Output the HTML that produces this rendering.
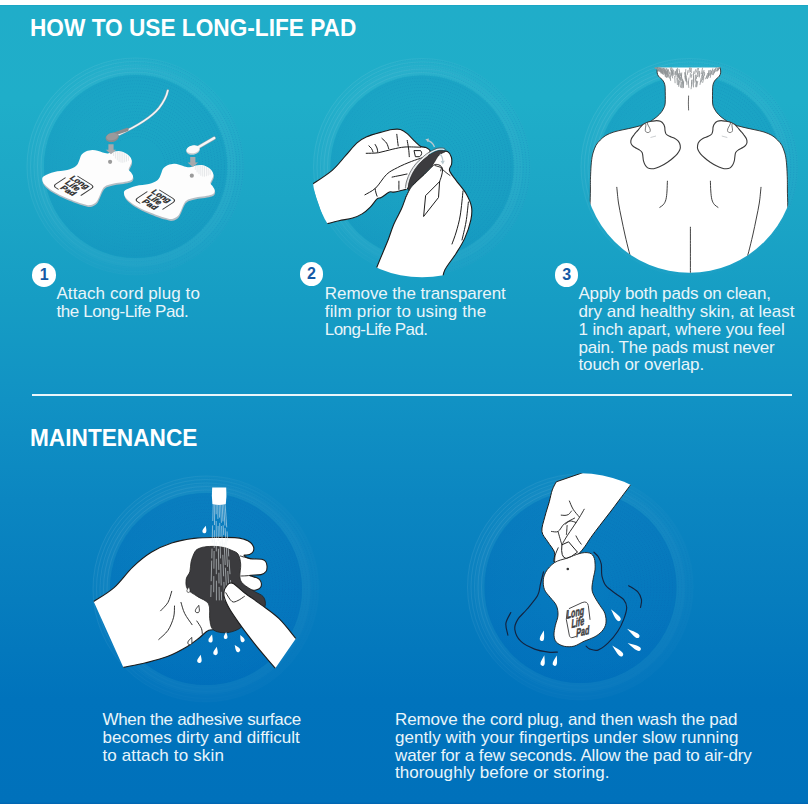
<!DOCTYPE html>
<html lang="en">
<head>
<meta charset="utf-8">
<title>How to use Long-Life Pad</title>
<style>
html,body{margin:0;padding:0;background:#fff;}
body{width:808px;height:808px;position:relative;overflow:hidden;font-family:"Liberation Sans",sans-serif;}
#bg{position:absolute;left:0;top:5px;width:808px;height:799px;
background:linear-gradient(to bottom,#18a3c2 0px,#20adc9 1.5px,#1faec9 95px,#1ca6c6 195px,#169dc4 295px,#1192c4 395px,#0b86c1 495px,#067dbe 595px,#0073bc 695px,#0071bb 797px,#0064b0 799px);}
#art{position:absolute;left:0;top:0;width:808px;height:808px;}
h1,h2{position:absolute;margin:0;font-weight:bold;font-size:24.6px;line-height:26px;color:#fff;white-space:nowrap;left:29.6px;transform:scaleX(0.921);transform-origin:0 0;}
h1{top:14.9px;}
h2{top:425px;left:30.2px;}
.rule{position:absolute;left:32px;top:394px;width:760px;height:2px;background:#eaf6fb;}
.badge{position:absolute;width:23.6px;height:23.6px;border-radius:50%;background:#fff;color:#1459a5;font-weight:bold;font-size:16px;line-height:23.8px;text-align:center;}
.t{position:absolute;margin:0;color:#e9f5fa;font-size:17px;line-height:17.7px;white-space:nowrap;}
.t span{display:block;}
</style>
</head>
<body>
<div id="bg"></div>
<svg id="art" viewBox="0 0 808 808" width="808" height="808">
<defs>
<radialGradient id="discg" cx="0.5" cy="0.5" r="0.5">
<stop offset="0" stop-color="#25b8dc" stop-opacity="0.06"/>
<stop offset="0.6" stop-color="#25b8dc" stop-opacity="0.02"/>
<stop offset="1" stop-color="#0a6fc0" stop-opacity="0.04"/>
</radialGradient>
<linearGradient id="ringd" x1="0" y1="0.6" x2="1" y2="0.4">
<stop offset="0" stop-color="#0b6fb5" stop-opacity="0"/>
<stop offset="0.45" stop-color="#0b6fb5" stop-opacity="0.10"/>
<stop offset="1" stop-color="#0b6fb5" stop-opacity="0.36"/>
</linearGradient>
<linearGradient id="ringi" x1="0" y1="0.7" x2="1" y2="0.3">
<stop offset="0" stop-color="#0d7fb4" stop-opacity="0.06"/>
<stop offset="0.4" stop-color="#0d7fb4" stop-opacity="0.20"/>
<stop offset="1" stop-color="#0d7fb4" stop-opacity="0.40"/>
</linearGradient>
<linearGradient id="ringj" x1="0" y1="0.7" x2="1" y2="0.3">
<stop offset="0" stop-color="#0a5fae" stop-opacity="0.03"/>
<stop offset="0.4" stop-color="#0a5fae" stop-opacity="0.12"/>
<stop offset="1" stop-color="#0a5fae" stop-opacity="0.30"/>
</linearGradient>
<linearGradient id="ringl" x1="0" y1="0.2" x2="1" y2="0.8">
<stop offset="0" stop-color="#ffffff" stop-opacity="0.13"/>
<stop offset="0.5" stop-color="#ffffff" stop-opacity="0.03"/>
<stop offset="1" stop-color="#ffffff" stop-opacity="0"/>
</linearGradient>
</defs>
<g id="disc1"><circle cx="135.5" cy="166.5" r="100.0" fill="none" stroke="#ffffff" stroke-opacity="0.02" stroke-width="17"/><circle cx="135.5" cy="166.5" r="96.0" fill="none" stroke="#ffffff" stroke-opacity="0.025" stroke-width="9"/><circle cx="135.5" cy="166.5" r="91.5" fill="#0b81b0" fill-opacity="0.17"/><circle cx="135.5" cy="166.5" r="91.5" fill="url(#discg)"/><circle cx="135.5" cy="166.5" r="30.0" fill="none" stroke="url(#ringi)" stroke-width="0.9" stroke-dasharray="1 1.6"/><circle cx="135.5" cy="166.5" r="33.1" fill="none" stroke="url(#ringi)" stroke-width="0.9" stroke-dasharray="1 1.6"/><circle cx="135.5" cy="166.5" r="36.2" fill="none" stroke="url(#ringi)" stroke-width="0.9" stroke-dasharray="1 1.6"/><circle cx="135.5" cy="166.5" r="39.3" fill="none" stroke="url(#ringi)" stroke-width="0.9" stroke-dasharray="1 1.6"/><circle cx="135.5" cy="166.5" r="42.4" fill="none" stroke="url(#ringi)" stroke-width="0.9" stroke-dasharray="1 1.6"/><circle cx="135.5" cy="166.5" r="45.5" fill="none" stroke="url(#ringi)" stroke-width="0.9" stroke-dasharray="1 1.6"/><circle cx="135.5" cy="166.5" r="48.6" fill="none" stroke="url(#ringi)" stroke-width="0.9" stroke-dasharray="1 1.6"/><circle cx="135.5" cy="166.5" r="51.7" fill="none" stroke="url(#ringi)" stroke-width="0.9" stroke-dasharray="1 1.6"/><circle cx="135.5" cy="166.5" r="54.8" fill="none" stroke="url(#ringi)" stroke-width="0.9" stroke-dasharray="1 1.6"/><circle cx="135.5" cy="166.5" r="57.9" fill="none" stroke="url(#ringi)" stroke-width="0.9" stroke-dasharray="1 1.6"/><circle cx="135.5" cy="166.5" r="61.0" fill="none" stroke="url(#ringi)" stroke-width="0.9" stroke-dasharray="1 1.6"/><circle cx="135.5" cy="166.5" r="64.1" fill="none" stroke="url(#ringi)" stroke-width="0.9" stroke-dasharray="1 1.6"/><circle cx="135.5" cy="166.5" r="67.2" fill="none" stroke="url(#ringi)" stroke-width="0.9" stroke-dasharray="1 1.6"/><circle cx="135.5" cy="166.5" r="70.3" fill="none" stroke="url(#ringi)" stroke-width="0.9" stroke-dasharray="1 1.6"/><circle cx="135.5" cy="166.5" r="73.4" fill="none" stroke="url(#ringi)" stroke-width="0.9" stroke-dasharray="1 1.6"/><circle cx="135.5" cy="166.5" r="76.5" fill="none" stroke="url(#ringi)" stroke-width="0.9" stroke-dasharray="1 1.6"/><circle cx="135.5" cy="166.5" r="79.6" fill="none" stroke="url(#ringi)" stroke-width="0.9" stroke-dasharray="1 1.6"/><circle cx="135.5" cy="166.5" r="82.7" fill="none" stroke="url(#ringi)" stroke-width="0.9" stroke-dasharray="1 1.6"/><circle cx="135.5" cy="166.5" r="85.8" fill="none" stroke="url(#ringi)" stroke-width="0.9" stroke-dasharray="1 1.6"/><circle cx="135.5" cy="166.5" r="88.9" fill="none" stroke="url(#ringi)" stroke-width="0.9" stroke-dasharray="1 1.6"/><circle cx="135.5" cy="166.5" r="92.0" fill="none" stroke="url(#ringd)" stroke-width="0.8" stroke-dasharray="1 1.5"/><circle cx="135.5" cy="166.5" r="95.1" fill="none" stroke="url(#ringd)" stroke-width="0.8" stroke-dasharray="1 1.5"/><circle cx="135.5" cy="166.5" r="98.2" fill="none" stroke="url(#ringd)" stroke-width="0.8" stroke-dasharray="1 1.5"/><circle cx="135.5" cy="166.5" r="101.3" fill="none" stroke="url(#ringd)" stroke-width="0.8" stroke-dasharray="1 1.5"/><circle cx="135.5" cy="166.5" r="104.4" fill="none" stroke="url(#ringd)" stroke-width="0.8" stroke-dasharray="1 1.5"/><circle cx="135.5" cy="166.5" r="107.5" fill="none" stroke="url(#ringd)" stroke-width="0.8" stroke-dasharray="1 1.5"/><circle cx="135.5" cy="166.5" r="94.5" fill="none" stroke="url(#ringl)" stroke-width="0.7"/><circle cx="135.5" cy="166.5" r="98.0" fill="none" stroke="url(#ringl)" stroke-width="0.7"/><circle cx="135.5" cy="166.5" r="101.5" fill="none" stroke="url(#ringl)" stroke-width="0.7"/><circle cx="135.5" cy="166.5" r="105.0" fill="none" stroke="url(#ringl)" stroke-width="0.7"/><circle cx="135.5" cy="166.5" r="108.5" fill="none" stroke="url(#ringl)" stroke-width="0.7"/></g>
<g id="disc2"><circle cx="422" cy="167" r="100.0" fill="none" stroke="#ffffff" stroke-opacity="0.02" stroke-width="17"/><circle cx="422" cy="167" r="96.0" fill="none" stroke="#ffffff" stroke-opacity="0.025" stroke-width="9"/><circle cx="422" cy="167" r="91.5" fill="#0b81b0" fill-opacity="0.17"/><circle cx="422" cy="167" r="91.5" fill="url(#discg)"/><circle cx="422" cy="167" r="30.0" fill="none" stroke="url(#ringi)" stroke-width="0.9" stroke-dasharray="1 1.6"/><circle cx="422" cy="167" r="33.1" fill="none" stroke="url(#ringi)" stroke-width="0.9" stroke-dasharray="1 1.6"/><circle cx="422" cy="167" r="36.2" fill="none" stroke="url(#ringi)" stroke-width="0.9" stroke-dasharray="1 1.6"/><circle cx="422" cy="167" r="39.3" fill="none" stroke="url(#ringi)" stroke-width="0.9" stroke-dasharray="1 1.6"/><circle cx="422" cy="167" r="42.4" fill="none" stroke="url(#ringi)" stroke-width="0.9" stroke-dasharray="1 1.6"/><circle cx="422" cy="167" r="45.5" fill="none" stroke="url(#ringi)" stroke-width="0.9" stroke-dasharray="1 1.6"/><circle cx="422" cy="167" r="48.6" fill="none" stroke="url(#ringi)" stroke-width="0.9" stroke-dasharray="1 1.6"/><circle cx="422" cy="167" r="51.7" fill="none" stroke="url(#ringi)" stroke-width="0.9" stroke-dasharray="1 1.6"/><circle cx="422" cy="167" r="54.8" fill="none" stroke="url(#ringi)" stroke-width="0.9" stroke-dasharray="1 1.6"/><circle cx="422" cy="167" r="57.9" fill="none" stroke="url(#ringi)" stroke-width="0.9" stroke-dasharray="1 1.6"/><circle cx="422" cy="167" r="61.0" fill="none" stroke="url(#ringi)" stroke-width="0.9" stroke-dasharray="1 1.6"/><circle cx="422" cy="167" r="64.1" fill="none" stroke="url(#ringi)" stroke-width="0.9" stroke-dasharray="1 1.6"/><circle cx="422" cy="167" r="67.2" fill="none" stroke="url(#ringi)" stroke-width="0.9" stroke-dasharray="1 1.6"/><circle cx="422" cy="167" r="70.3" fill="none" stroke="url(#ringi)" stroke-width="0.9" stroke-dasharray="1 1.6"/><circle cx="422" cy="167" r="73.4" fill="none" stroke="url(#ringi)" stroke-width="0.9" stroke-dasharray="1 1.6"/><circle cx="422" cy="167" r="76.5" fill="none" stroke="url(#ringi)" stroke-width="0.9" stroke-dasharray="1 1.6"/><circle cx="422" cy="167" r="79.6" fill="none" stroke="url(#ringi)" stroke-width="0.9" stroke-dasharray="1 1.6"/><circle cx="422" cy="167" r="82.7" fill="none" stroke="url(#ringi)" stroke-width="0.9" stroke-dasharray="1 1.6"/><circle cx="422" cy="167" r="85.8" fill="none" stroke="url(#ringi)" stroke-width="0.9" stroke-dasharray="1 1.6"/><circle cx="422" cy="167" r="88.9" fill="none" stroke="url(#ringi)" stroke-width="0.9" stroke-dasharray="1 1.6"/><circle cx="422" cy="167" r="92.0" fill="none" stroke="url(#ringd)" stroke-width="0.8" stroke-dasharray="1 1.5"/><circle cx="422" cy="167" r="95.1" fill="none" stroke="url(#ringd)" stroke-width="0.8" stroke-dasharray="1 1.5"/><circle cx="422" cy="167" r="98.2" fill="none" stroke="url(#ringd)" stroke-width="0.8" stroke-dasharray="1 1.5"/><circle cx="422" cy="167" r="101.3" fill="none" stroke="url(#ringd)" stroke-width="0.8" stroke-dasharray="1 1.5"/><circle cx="422" cy="167" r="104.4" fill="none" stroke="url(#ringd)" stroke-width="0.8" stroke-dasharray="1 1.5"/><circle cx="422" cy="167" r="107.5" fill="none" stroke="url(#ringd)" stroke-width="0.8" stroke-dasharray="1 1.5"/><circle cx="422" cy="167" r="94.5" fill="none" stroke="url(#ringl)" stroke-width="0.7"/><circle cx="422" cy="167" r="98.0" fill="none" stroke="url(#ringl)" stroke-width="0.7"/><circle cx="422" cy="167" r="101.5" fill="none" stroke="url(#ringl)" stroke-width="0.7"/><circle cx="422" cy="167" r="105.0" fill="none" stroke="url(#ringl)" stroke-width="0.7"/><circle cx="422" cy="167" r="108.5" fill="none" stroke="url(#ringl)" stroke-width="0.7"/></g>
<g id="disc3"><circle cx="689.5" cy="167" r="100.0" fill="none" stroke="#ffffff" stroke-opacity="0.02" stroke-width="17"/><circle cx="689.5" cy="167" r="96.0" fill="none" stroke="#ffffff" stroke-opacity="0.025" stroke-width="9"/><circle cx="689.5" cy="167" r="91.5" fill="#0b81b0" fill-opacity="0.17"/><circle cx="689.5" cy="167" r="91.5" fill="url(#discg)"/><circle cx="689.5" cy="167" r="30.0" fill="none" stroke="url(#ringi)" stroke-width="0.9" stroke-dasharray="1 1.6"/><circle cx="689.5" cy="167" r="33.1" fill="none" stroke="url(#ringi)" stroke-width="0.9" stroke-dasharray="1 1.6"/><circle cx="689.5" cy="167" r="36.2" fill="none" stroke="url(#ringi)" stroke-width="0.9" stroke-dasharray="1 1.6"/><circle cx="689.5" cy="167" r="39.3" fill="none" stroke="url(#ringi)" stroke-width="0.9" stroke-dasharray="1 1.6"/><circle cx="689.5" cy="167" r="42.4" fill="none" stroke="url(#ringi)" stroke-width="0.9" stroke-dasharray="1 1.6"/><circle cx="689.5" cy="167" r="45.5" fill="none" stroke="url(#ringi)" stroke-width="0.9" stroke-dasharray="1 1.6"/><circle cx="689.5" cy="167" r="48.6" fill="none" stroke="url(#ringi)" stroke-width="0.9" stroke-dasharray="1 1.6"/><circle cx="689.5" cy="167" r="51.7" fill="none" stroke="url(#ringi)" stroke-width="0.9" stroke-dasharray="1 1.6"/><circle cx="689.5" cy="167" r="54.8" fill="none" stroke="url(#ringi)" stroke-width="0.9" stroke-dasharray="1 1.6"/><circle cx="689.5" cy="167" r="57.9" fill="none" stroke="url(#ringi)" stroke-width="0.9" stroke-dasharray="1 1.6"/><circle cx="689.5" cy="167" r="61.0" fill="none" stroke="url(#ringi)" stroke-width="0.9" stroke-dasharray="1 1.6"/><circle cx="689.5" cy="167" r="64.1" fill="none" stroke="url(#ringi)" stroke-width="0.9" stroke-dasharray="1 1.6"/><circle cx="689.5" cy="167" r="67.2" fill="none" stroke="url(#ringi)" stroke-width="0.9" stroke-dasharray="1 1.6"/><circle cx="689.5" cy="167" r="70.3" fill="none" stroke="url(#ringi)" stroke-width="0.9" stroke-dasharray="1 1.6"/><circle cx="689.5" cy="167" r="73.4" fill="none" stroke="url(#ringi)" stroke-width="0.9" stroke-dasharray="1 1.6"/><circle cx="689.5" cy="167" r="76.5" fill="none" stroke="url(#ringi)" stroke-width="0.9" stroke-dasharray="1 1.6"/><circle cx="689.5" cy="167" r="79.6" fill="none" stroke="url(#ringi)" stroke-width="0.9" stroke-dasharray="1 1.6"/><circle cx="689.5" cy="167" r="82.7" fill="none" stroke="url(#ringi)" stroke-width="0.9" stroke-dasharray="1 1.6"/><circle cx="689.5" cy="167" r="85.8" fill="none" stroke="url(#ringi)" stroke-width="0.9" stroke-dasharray="1 1.6"/><circle cx="689.5" cy="167" r="88.9" fill="none" stroke="url(#ringi)" stroke-width="0.9" stroke-dasharray="1 1.6"/><circle cx="689.5" cy="167" r="92.0" fill="none" stroke="url(#ringd)" stroke-width="0.8" stroke-dasharray="1 1.5"/><circle cx="689.5" cy="167" r="95.1" fill="none" stroke="url(#ringd)" stroke-width="0.8" stroke-dasharray="1 1.5"/><circle cx="689.5" cy="167" r="98.2" fill="none" stroke="url(#ringd)" stroke-width="0.8" stroke-dasharray="1 1.5"/><circle cx="689.5" cy="167" r="101.3" fill="none" stroke="url(#ringd)" stroke-width="0.8" stroke-dasharray="1 1.5"/><circle cx="689.5" cy="167" r="104.4" fill="none" stroke="url(#ringd)" stroke-width="0.8" stroke-dasharray="1 1.5"/><circle cx="689.5" cy="167" r="107.5" fill="none" stroke="url(#ringd)" stroke-width="0.8" stroke-dasharray="1 1.5"/><circle cx="689.5" cy="167" r="94.5" fill="none" stroke="url(#ringl)" stroke-width="0.7"/><circle cx="689.5" cy="167" r="98.0" fill="none" stroke="url(#ringl)" stroke-width="0.7"/><circle cx="689.5" cy="167" r="101.5" fill="none" stroke="url(#ringl)" stroke-width="0.7"/><circle cx="689.5" cy="167" r="105.0" fill="none" stroke="url(#ringl)" stroke-width="0.7"/><circle cx="689.5" cy="167" r="108.5" fill="none" stroke="url(#ringl)" stroke-width="0.7"/></g>
<g id="disc4"><circle cx="206" cy="589" r="104.5" fill="none" stroke="#ffffff" stroke-opacity="0.02" stroke-width="17"/><circle cx="206" cy="589" r="100.5" fill="none" stroke="#ffffff" stroke-opacity="0.025" stroke-width="9"/><circle cx="206" cy="589" r="96" fill="#005bb6" fill-opacity="0.17"/><circle cx="206" cy="589" r="96" fill="url(#discg)"/><circle cx="206" cy="589" r="30.0" fill="none" stroke="url(#ringj)" stroke-width="0.9" stroke-dasharray="1 1.6"/><circle cx="206" cy="589" r="33.1" fill="none" stroke="url(#ringj)" stroke-width="0.9" stroke-dasharray="1 1.6"/><circle cx="206" cy="589" r="36.2" fill="none" stroke="url(#ringj)" stroke-width="0.9" stroke-dasharray="1 1.6"/><circle cx="206" cy="589" r="39.3" fill="none" stroke="url(#ringj)" stroke-width="0.9" stroke-dasharray="1 1.6"/><circle cx="206" cy="589" r="42.4" fill="none" stroke="url(#ringj)" stroke-width="0.9" stroke-dasharray="1 1.6"/><circle cx="206" cy="589" r="45.5" fill="none" stroke="url(#ringj)" stroke-width="0.9" stroke-dasharray="1 1.6"/><circle cx="206" cy="589" r="48.6" fill="none" stroke="url(#ringj)" stroke-width="0.9" stroke-dasharray="1 1.6"/><circle cx="206" cy="589" r="51.7" fill="none" stroke="url(#ringj)" stroke-width="0.9" stroke-dasharray="1 1.6"/><circle cx="206" cy="589" r="54.8" fill="none" stroke="url(#ringj)" stroke-width="0.9" stroke-dasharray="1 1.6"/><circle cx="206" cy="589" r="57.9" fill="none" stroke="url(#ringj)" stroke-width="0.9" stroke-dasharray="1 1.6"/><circle cx="206" cy="589" r="61.0" fill="none" stroke="url(#ringj)" stroke-width="0.9" stroke-dasharray="1 1.6"/><circle cx="206" cy="589" r="64.1" fill="none" stroke="url(#ringj)" stroke-width="0.9" stroke-dasharray="1 1.6"/><circle cx="206" cy="589" r="67.2" fill="none" stroke="url(#ringj)" stroke-width="0.9" stroke-dasharray="1 1.6"/><circle cx="206" cy="589" r="70.3" fill="none" stroke="url(#ringj)" stroke-width="0.9" stroke-dasharray="1 1.6"/><circle cx="206" cy="589" r="73.4" fill="none" stroke="url(#ringj)" stroke-width="0.9" stroke-dasharray="1 1.6"/><circle cx="206" cy="589" r="76.5" fill="none" stroke="url(#ringj)" stroke-width="0.9" stroke-dasharray="1 1.6"/><circle cx="206" cy="589" r="79.6" fill="none" stroke="url(#ringj)" stroke-width="0.9" stroke-dasharray="1 1.6"/><circle cx="206" cy="589" r="82.7" fill="none" stroke="url(#ringj)" stroke-width="0.9" stroke-dasharray="1 1.6"/><circle cx="206" cy="589" r="85.8" fill="none" stroke="url(#ringj)" stroke-width="0.9" stroke-dasharray="1 1.6"/><circle cx="206" cy="589" r="88.9" fill="none" stroke="url(#ringj)" stroke-width="0.9" stroke-dasharray="1 1.6"/><circle cx="206" cy="589" r="92.0" fill="none" stroke="url(#ringj)" stroke-width="0.9" stroke-dasharray="1 1.6"/><circle cx="206" cy="589" r="95.1" fill="none" stroke="url(#ringd)" stroke-width="0.8" stroke-dasharray="1 1.5"/><circle cx="206" cy="589" r="98.2" fill="none" stroke="url(#ringd)" stroke-width="0.8" stroke-dasharray="1 1.5"/><circle cx="206" cy="589" r="101.3" fill="none" stroke="url(#ringd)" stroke-width="0.8" stroke-dasharray="1 1.5"/><circle cx="206" cy="589" r="104.4" fill="none" stroke="url(#ringd)" stroke-width="0.8" stroke-dasharray="1 1.5"/><circle cx="206" cy="589" r="107.5" fill="none" stroke="url(#ringd)" stroke-width="0.8" stroke-dasharray="1 1.5"/><circle cx="206" cy="589" r="110.6" fill="none" stroke="url(#ringd)" stroke-width="0.8" stroke-dasharray="1 1.5"/><circle cx="206" cy="589" r="99" fill="none" stroke="url(#ringl)" stroke-width="0.7"/><circle cx="206" cy="589" r="102.5" fill="none" stroke="url(#ringl)" stroke-width="0.7"/><circle cx="206" cy="589" r="106" fill="none" stroke="url(#ringl)" stroke-width="0.7"/><circle cx="206" cy="589" r="109.5" fill="none" stroke="url(#ringl)" stroke-width="0.7"/><circle cx="206" cy="589" r="113" fill="none" stroke="url(#ringl)" stroke-width="0.7"/></g>
<g id="disc5"><circle cx="580.5" cy="587" r="104.5" fill="none" stroke="#ffffff" stroke-opacity="0.02" stroke-width="17"/><circle cx="580.5" cy="587" r="100.5" fill="none" stroke="#ffffff" stroke-opacity="0.025" stroke-width="9"/><circle cx="580.5" cy="587" r="96" fill="#005bb6" fill-opacity="0.17"/><circle cx="580.5" cy="587" r="96" fill="url(#discg)"/><circle cx="580.5" cy="587" r="30.0" fill="none" stroke="url(#ringj)" stroke-width="0.9" stroke-dasharray="1 1.6"/><circle cx="580.5" cy="587" r="33.1" fill="none" stroke="url(#ringj)" stroke-width="0.9" stroke-dasharray="1 1.6"/><circle cx="580.5" cy="587" r="36.2" fill="none" stroke="url(#ringj)" stroke-width="0.9" stroke-dasharray="1 1.6"/><circle cx="580.5" cy="587" r="39.3" fill="none" stroke="url(#ringj)" stroke-width="0.9" stroke-dasharray="1 1.6"/><circle cx="580.5" cy="587" r="42.4" fill="none" stroke="url(#ringj)" stroke-width="0.9" stroke-dasharray="1 1.6"/><circle cx="580.5" cy="587" r="45.5" fill="none" stroke="url(#ringj)" stroke-width="0.9" stroke-dasharray="1 1.6"/><circle cx="580.5" cy="587" r="48.6" fill="none" stroke="url(#ringj)" stroke-width="0.9" stroke-dasharray="1 1.6"/><circle cx="580.5" cy="587" r="51.7" fill="none" stroke="url(#ringj)" stroke-width="0.9" stroke-dasharray="1 1.6"/><circle cx="580.5" cy="587" r="54.8" fill="none" stroke="url(#ringj)" stroke-width="0.9" stroke-dasharray="1 1.6"/><circle cx="580.5" cy="587" r="57.9" fill="none" stroke="url(#ringj)" stroke-width="0.9" stroke-dasharray="1 1.6"/><circle cx="580.5" cy="587" r="61.0" fill="none" stroke="url(#ringj)" stroke-width="0.9" stroke-dasharray="1 1.6"/><circle cx="580.5" cy="587" r="64.1" fill="none" stroke="url(#ringj)" stroke-width="0.9" stroke-dasharray="1 1.6"/><circle cx="580.5" cy="587" r="67.2" fill="none" stroke="url(#ringj)" stroke-width="0.9" stroke-dasharray="1 1.6"/><circle cx="580.5" cy="587" r="70.3" fill="none" stroke="url(#ringj)" stroke-width="0.9" stroke-dasharray="1 1.6"/><circle cx="580.5" cy="587" r="73.4" fill="none" stroke="url(#ringj)" stroke-width="0.9" stroke-dasharray="1 1.6"/><circle cx="580.5" cy="587" r="76.5" fill="none" stroke="url(#ringj)" stroke-width="0.9" stroke-dasharray="1 1.6"/><circle cx="580.5" cy="587" r="79.6" fill="none" stroke="url(#ringj)" stroke-width="0.9" stroke-dasharray="1 1.6"/><circle cx="580.5" cy="587" r="82.7" fill="none" stroke="url(#ringj)" stroke-width="0.9" stroke-dasharray="1 1.6"/><circle cx="580.5" cy="587" r="85.8" fill="none" stroke="url(#ringj)" stroke-width="0.9" stroke-dasharray="1 1.6"/><circle cx="580.5" cy="587" r="88.9" fill="none" stroke="url(#ringj)" stroke-width="0.9" stroke-dasharray="1 1.6"/><circle cx="580.5" cy="587" r="92.0" fill="none" stroke="url(#ringj)" stroke-width="0.9" stroke-dasharray="1 1.6"/><circle cx="580.5" cy="587" r="95.1" fill="none" stroke="url(#ringd)" stroke-width="0.8" stroke-dasharray="1 1.5"/><circle cx="580.5" cy="587" r="98.2" fill="none" stroke="url(#ringd)" stroke-width="0.8" stroke-dasharray="1 1.5"/><circle cx="580.5" cy="587" r="101.3" fill="none" stroke="url(#ringd)" stroke-width="0.8" stroke-dasharray="1 1.5"/><circle cx="580.5" cy="587" r="104.4" fill="none" stroke="url(#ringd)" stroke-width="0.8" stroke-dasharray="1 1.5"/><circle cx="580.5" cy="587" r="107.5" fill="none" stroke="url(#ringd)" stroke-width="0.8" stroke-dasharray="1 1.5"/><circle cx="580.5" cy="587" r="110.6" fill="none" stroke="url(#ringd)" stroke-width="0.8" stroke-dasharray="1 1.5"/><circle cx="580.5" cy="587" r="99" fill="none" stroke="url(#ringl)" stroke-width="0.7"/><circle cx="580.5" cy="587" r="102.5" fill="none" stroke="url(#ringl)" stroke-width="0.7"/><circle cx="580.5" cy="587" r="106" fill="none" stroke="url(#ringl)" stroke-width="0.7"/><circle cx="580.5" cy="587" r="109.5" fill="none" stroke="url(#ringl)" stroke-width="0.7"/><circle cx="580.5" cy="587" r="113" fill="none" stroke="url(#ringl)" stroke-width="0.7"/></g>

<g id="step1"><g><path d="M42.2 178.9C42.2 177.4 42.7 176.8 44.7 175.7C46.7 174.5 50.5 172.9 54.3 172.0C58.0 171.1 63.6 171.1 67.2 170.1C70.8 169.1 74.0 167.6 76.0 166.0C78.0 164.4 78.3 162.3 79.2 160.4C80.1 158.5 80.3 156.2 81.5 154.7C82.7 153.2 84.5 152.0 86.3 151.2C88.1 150.4 90.4 150.0 92.3 149.9C94.2 149.8 95.8 150.4 97.5 150.8C99.2 151.2 101.0 152.1 102.7 152.5C104.4 152.9 106.0 153.6 107.9 153.4C109.8 153.2 112.0 152.0 114.0 151.6C116.0 151.2 118.0 150.9 120.0 151.2C122.0 151.5 124.4 152.4 126.1 153.4C127.8 154.4 129.5 155.9 130.4 157.3C131.3 158.7 131.8 160.2 131.7 161.6C131.6 163.0 130.5 164.6 130.0 165.9C129.5 167.2 128.5 168.2 128.7 169.4C128.9 170.6 130.6 171.7 131.3 172.8C132.0 174.0 132.9 175.1 133.0 176.3C133.1 177.5 132.7 178.9 131.7 179.8C130.7 180.7 129.2 181.0 127.0 181.5C124.8 182.0 121.2 182.3 118.3 182.8C115.4 183.3 112.2 183.7 109.7 184.5C107.2 185.3 105.3 185.6 103.6 187.6C101.9 189.6 100.5 194.2 99.3 196.6C98.0 199.0 97.6 200.8 96.1 202.2C94.6 203.6 92.6 204.8 90.5 205.1C88.4 205.4 87.2 205.1 83.3 203.9C79.4 202.8 72.3 200.3 67.2 198.2C62.1 196.0 56.5 193.3 52.7 191.0C49.0 188.7 46.5 186.6 44.7 184.6C43.0 182.6 42.2 180.4 42.2 178.9Z" transform="translate(0.4 1.8)" fill="#b4bec5"/><path d="M42.2 178.9C42.2 177.4 42.7 176.8 44.7 175.7C46.7 174.5 50.5 172.9 54.3 172.0C58.0 171.1 63.6 171.1 67.2 170.1C70.8 169.1 74.0 167.6 76.0 166.0C78.0 164.4 78.3 162.3 79.2 160.4C80.1 158.5 80.3 156.2 81.5 154.7C82.7 153.2 84.5 152.0 86.3 151.2C88.1 150.4 90.4 150.0 92.3 149.9C94.2 149.8 95.8 150.4 97.5 150.8C99.2 151.2 101.0 152.1 102.7 152.5C104.4 152.9 106.0 153.6 107.9 153.4C109.8 153.2 112.0 152.0 114.0 151.6C116.0 151.2 118.0 150.9 120.0 151.2C122.0 151.5 124.4 152.4 126.1 153.4C127.8 154.4 129.5 155.9 130.4 157.3C131.3 158.7 131.8 160.2 131.7 161.6C131.6 163.0 130.5 164.6 130.0 165.9C129.5 167.2 128.5 168.2 128.7 169.4C128.9 170.6 130.6 171.7 131.3 172.8C132.0 174.0 132.9 175.1 133.0 176.3C133.1 177.5 132.7 178.9 131.7 179.8C130.7 180.7 129.2 181.0 127.0 181.5C124.8 182.0 121.2 182.3 118.3 182.8C115.4 183.3 112.2 183.7 109.7 184.5C107.2 185.3 105.3 185.6 103.6 187.6C101.9 189.6 100.5 194.2 99.3 196.6C98.0 199.0 97.6 200.8 96.1 202.2C94.6 203.6 92.6 204.8 90.5 205.1C88.4 205.4 87.2 205.1 83.3 203.9C79.4 202.8 72.3 200.3 67.2 198.2C62.1 196.0 56.5 193.3 52.7 191.0C49.0 188.7 46.5 186.6 44.7 184.6C43.0 182.6 42.2 180.4 42.2 178.9Z" fill="#fdfdfd"/><path d="M113.6 151.9v4.0" stroke="#cfd3d7" stroke-width="0.5" fill="none"/><path d="M115.4 151.5v7.0" stroke="#cfd3d7" stroke-width="0.5" fill="none"/><path d="M117.3 151.3v9.0" stroke="#cfd3d7" stroke-width="0.5" fill="none"/><path d="M119.1 151.3v10.5" stroke="#cfd3d7" stroke-width="0.5" fill="none"/><path d="M121.0 151.6v11.0" stroke="#cfd3d7" stroke-width="0.5" fill="none"/><path d="M122.8 152.3v10.5" stroke="#cfd3d7" stroke-width="0.5" fill="none"/><path d="M124.7 153.3v9.0" stroke="#cfd3d7" stroke-width="0.5" fill="none"/><path d="M126.5 154.6v7.0" stroke="#cfd3d7" stroke-width="0.5" fill="none"/><path d="M128.4 156.3v4.5" stroke="#cfd3d7" stroke-width="0.5" fill="none"/><circle cx="110.1" cy="161.8" r="2.1" fill="#9b9b9b"/><g opacity="0.99" font-family="Liberation Sans, sans-serif" font-weight="bold" font-size="8.3" fill="#262626" stroke="#262626" stroke-width="0.3"><path transform="matrix(0.95 0.59 -0.835 0.55 68.7 178.5)" d="M3 -7.4H17Q20.6 -7.4 20.6 -3.8V8.6M-2.4 1.3V12.6Q-2.4 16.2 1.2 16.2H3.2" fill="none" stroke="#3a3a3a" stroke-width="0.9" stroke-linecap="round"/><g transform="matrix(0.85 0.528 -0.835 0.55 68.9 178.4)"><text x="0" y="0">Long</text><text x="1.7" y="7.3">Life</text><text x="3.4" y="14.6">Pad</text></g></g></g><g transform="translate(81.7 13.9)"><g><path d="M42.2 178.9C42.2 177.4 42.7 176.8 44.7 175.7C46.7 174.5 50.5 172.9 54.3 172.0C58.0 171.1 63.6 171.1 67.2 170.1C70.8 169.1 74.0 167.6 76.0 166.0C78.0 164.4 78.3 162.3 79.2 160.4C80.1 158.5 80.3 156.2 81.5 154.7C82.7 153.2 84.5 152.0 86.3 151.2C88.1 150.4 90.4 150.0 92.3 149.9C94.2 149.8 95.8 150.4 97.5 150.8C99.2 151.2 101.0 152.1 102.7 152.5C104.4 152.9 106.0 153.6 107.9 153.4C109.8 153.2 112.0 152.0 114.0 151.6C116.0 151.2 118.0 150.9 120.0 151.2C122.0 151.5 124.4 152.4 126.1 153.4C127.8 154.4 129.5 155.9 130.4 157.3C131.3 158.7 131.8 160.2 131.7 161.6C131.6 163.0 130.5 164.6 130.0 165.9C129.5 167.2 128.5 168.2 128.7 169.4C128.9 170.6 130.6 171.7 131.3 172.8C132.0 174.0 132.9 175.1 133.0 176.3C133.1 177.5 132.7 178.9 131.7 179.8C130.7 180.7 129.2 181.0 127.0 181.5C124.8 182.0 121.2 182.3 118.3 182.8C115.4 183.3 112.2 183.7 109.7 184.5C107.2 185.3 105.3 185.6 103.6 187.6C101.9 189.6 100.5 194.2 99.3 196.6C98.0 199.0 97.6 200.8 96.1 202.2C94.6 203.6 92.6 204.8 90.5 205.1C88.4 205.4 87.2 205.1 83.3 203.9C79.4 202.8 72.3 200.3 67.2 198.2C62.1 196.0 56.5 193.3 52.7 191.0C49.0 188.7 46.5 186.6 44.7 184.6C43.0 182.6 42.2 180.4 42.2 178.9Z" transform="translate(0.4 1.8)" fill="#b4bec5"/><path d="M42.2 178.9C42.2 177.4 42.7 176.8 44.7 175.7C46.7 174.5 50.5 172.9 54.3 172.0C58.0 171.1 63.6 171.1 67.2 170.1C70.8 169.1 74.0 167.6 76.0 166.0C78.0 164.4 78.3 162.3 79.2 160.4C80.1 158.5 80.3 156.2 81.5 154.7C82.7 153.2 84.5 152.0 86.3 151.2C88.1 150.4 90.4 150.0 92.3 149.9C94.2 149.8 95.8 150.4 97.5 150.8C99.2 151.2 101.0 152.1 102.7 152.5C104.4 152.9 106.0 153.6 107.9 153.4C109.8 153.2 112.0 152.0 114.0 151.6C116.0 151.2 118.0 150.9 120.0 151.2C122.0 151.5 124.4 152.4 126.1 153.4C127.8 154.4 129.5 155.9 130.4 157.3C131.3 158.7 131.8 160.2 131.7 161.6C131.6 163.0 130.5 164.6 130.0 165.9C129.5 167.2 128.5 168.2 128.7 169.4C128.9 170.6 130.6 171.7 131.3 172.8C132.0 174.0 132.9 175.1 133.0 176.3C133.1 177.5 132.7 178.9 131.7 179.8C130.7 180.7 129.2 181.0 127.0 181.5C124.8 182.0 121.2 182.3 118.3 182.8C115.4 183.3 112.2 183.7 109.7 184.5C107.2 185.3 105.3 185.6 103.6 187.6C101.9 189.6 100.5 194.2 99.3 196.6C98.0 199.0 97.6 200.8 96.1 202.2C94.6 203.6 92.6 204.8 90.5 205.1C88.4 205.4 87.2 205.1 83.3 203.9C79.4 202.8 72.3 200.3 67.2 198.2C62.1 196.0 56.5 193.3 52.7 191.0C49.0 188.7 46.5 186.6 44.7 184.6C43.0 182.6 42.2 180.4 42.2 178.9Z" fill="#fdfdfd"/><path d="M113.6 151.9v4.0" stroke="#cfd3d7" stroke-width="0.5" fill="none"/><path d="M115.4 151.5v7.0" stroke="#cfd3d7" stroke-width="0.5" fill="none"/><path d="M117.3 151.3v9.0" stroke="#cfd3d7" stroke-width="0.5" fill="none"/><path d="M119.1 151.3v10.5" stroke="#cfd3d7" stroke-width="0.5" fill="none"/><path d="M121.0 151.6v11.0" stroke="#cfd3d7" stroke-width="0.5" fill="none"/><path d="M122.8 152.3v10.5" stroke="#cfd3d7" stroke-width="0.5" fill="none"/><path d="M124.7 153.3v9.0" stroke="#cfd3d7" stroke-width="0.5" fill="none"/><path d="M126.5 154.6v7.0" stroke="#cfd3d7" stroke-width="0.5" fill="none"/><path d="M128.4 156.3v4.5" stroke="#cfd3d7" stroke-width="0.5" fill="none"/><circle cx="110.1" cy="161.8" r="2.1" fill="#9b9b9b"/><g opacity="0.99" font-family="Liberation Sans, sans-serif" font-weight="bold" font-size="8.3" fill="#262626" stroke="#262626" stroke-width="0.3"><path transform="matrix(0.95 0.59 -0.835 0.55 68.7 178.5)" d="M3 -7.4H17Q20.6 -7.4 20.6 -3.8V8.6M-2.4 1.3V12.6Q-2.4 16.2 1.2 16.2H3.2" fill="none" stroke="#3a3a3a" stroke-width="0.9" stroke-linecap="round"/><g transform="matrix(0.85 0.528 -0.835 0.55 68.9 178.4)"><text x="0" y="0">Long</text><text x="1.7" y="7.3">Life</text><text x="3.4" y="14.6">Pad</text></g></g></g></g><path d="M119 134.5C133 128 150 119 159 108C164 101.5 166.8 95.5 167.8 90.6" fill="none" stroke="#8aa4b0" stroke-width="2.6" stroke-linecap="round"/><path d="M119 134.5C133 128 150 119 159 108C164 101.5 166.8 95.5 167.8 90.6" fill="none" stroke="#f4f6f7" stroke-width="1.7" stroke-linecap="round"/><path d="M113 134.5L127 129.6" stroke="#8b8b8d" stroke-width="3.4" stroke-linecap="round" fill="none"/><ellipse cx="112.2" cy="137.4" rx="6.7" ry="4.6" transform="rotate(-12 112.2 137.4)" fill="#8b8b8d"/><ellipse cx="112.2" cy="136.6" rx="6.0" ry="3.6" transform="rotate(-12 112.2 136.6)" fill="#9a9a9c"/><path d="M108.4 144.2h5.2v5.6h2.7l-5.3 4.4l-5.3 -4.4h2.7z" fill="#a7a9ac"/><path d="M197 148L214 138.2" stroke="#9aa7ae" stroke-width="3.6" stroke-linecap="round" fill="none"/><path d="M197 148L214.2 138" stroke="#f6f7f8" stroke-width="2.4" stroke-linecap="round" fill="none"/><ellipse cx="193" cy="150.2" rx="6.9" ry="4.5" transform="rotate(-10 193 150.2)" fill="#c5cbcf"/><ellipse cx="193" cy="149.3" rx="6.6" ry="3.9" transform="rotate(-10 193 149.3)" fill="#fafafa"/><path d="M190.2 157.0h5.2v5.6h2.7l-5.3 4.4l-5.3 -4.4h2.7z" fill="#a7a9ac"/></g>
<defs><clipPath id="clip2"><circle cx="422" cy="167" r="110.3"/></clipPath></defs><g id="step2" clip-path="url(#clip2)" stroke-linejoin="round"><path d="M311.8 184.6C315.2 182.2 326.5 175.2 332.2 170.3C337.9 165.4 341.7 159.9 345.8 155.4C349.9 150.9 353.3 146.2 356.7 143.1C360.1 140.0 362.1 138.8 366.2 137.0C370.3 135.2 376.9 133.4 381.2 132.2C385.5 130.9 389.0 129.9 392.2 129.5C395.4 129.1 397.9 128.8 400.4 129.5C402.9 130.2 404.7 131.5 407.2 133.6C409.7 135.7 413.1 139.7 415.4 141.8C417.7 144.0 419.0 145.6 420.8 146.5C422.6 147.4 424.5 146.8 426.0 147.5C427.5 148.2 429.5 149.3 430.0 150.5C430.5 151.7 429.3 153.2 429.0 154.5C428.7 155.8 429.3 156.8 428.0 158.5C426.7 160.2 423.3 162.4 421.0 165.0C418.7 167.6 415.8 171.2 414.0 174.0C412.2 176.8 411.1 179.6 410.0 182.0C408.9 184.4 409.1 187.1 407.5 188.5C405.9 189.9 402.5 190.1 400.2 190.7C397.9 191.3 395.4 191.9 393.6 192.1C391.8 192.3 391.5 191.2 389.4 192.1C387.3 193.0 383.2 196.5 381.2 197.6C379.1 198.7 378.9 197.3 377.1 198.9C375.3 200.5 372.8 204.6 370.3 207.1C367.8 209.6 365.1 212.1 362.1 213.9C359.2 215.7 356.5 216.9 352.6 218.0C348.8 219.1 343.5 219.7 339.0 220.7C334.5 221.7 327.7 223.5 325.4 224.1Z" fill="#fff"/><path d="M311.8 184.6C315.2 182.2 326.5 175.2 332.2 170.3C337.9 165.4 341.7 159.9 345.8 155.4C349.9 150.9 353.3 146.2 356.7 143.1C360.1 140.0 362.1 138.8 366.2 137.0C370.3 135.2 376.9 133.4 381.2 132.2C385.5 130.9 389.0 129.9 392.2 129.5C395.4 129.1 397.9 128.8 400.4 129.5C402.9 130.2 404.7 131.5 407.2 133.6C409.7 135.7 413.1 139.7 415.4 141.8C417.7 144.0 419.0 145.6 420.8 146.5C422.6 147.4 424.5 146.8 426.0 147.5C427.5 148.2 429.5 149.3 430.0 150.5C430.5 151.7 429.3 153.2 429.0 154.5C428.7 155.8 429.3 156.8 428.0 158.5C426.7 160.2 423.3 162.4 421.0 165.0C418.7 167.6 415.8 171.2 414.0 174.0C412.2 176.8 411.1 179.6 410.0 182.0C408.9 184.4 409.1 187.1 407.5 188.5C405.9 189.9 402.5 190.1 400.2 190.7C397.9 191.3 395.4 191.9 393.6 192.1C391.8 192.3 391.5 191.2 389.4 192.1C387.3 193.0 383.2 196.5 381.2 197.6C379.1 198.7 378.9 197.3 377.1 198.9C375.3 200.5 372.8 204.6 370.3 207.1C367.8 209.6 365.1 212.1 362.1 213.9C359.2 215.7 356.5 216.9 352.6 218.0C348.8 219.1 343.5 219.7 339.0 220.7C334.5 221.7 327.7 223.5 325.4 224.1" fill="none" stroke="#1c1c1c" stroke-width="1.1"/><path d="M368.9 145.9C369.3 146.3 370.8 147.5 371.5 148.5C372.2 149.5 372.8 151.4 373.0 152.0" fill="none" stroke="#1c1c1c" stroke-width="1.0" stroke-linecap="round"/><path d="M375.1 144.5C375.4 145.1 376.6 146.8 377.0 148.0C377.4 149.2 377.7 151.3 377.8 152.0" fill="none" stroke="#1c1c1c" stroke-width="1.0" stroke-linecap="round"/><path d="M381.9 138.4C382.7 139.2 385.5 141.4 386.6 143.1C387.7 144.8 388.4 147.7 388.7 148.6" fill="none" stroke="#1c1c1c" stroke-width="1.0" stroke-linecap="round"/><path d="M396.8 134.3C396.9 135.3 397.3 138.5 397.5 140.4C397.7 142.3 398.1 145.0 398.2 145.9" fill="none" stroke="#1c1c1c" stroke-width="1.0" stroke-linecap="round"/><path d="M366.2 153.3C368.2 153.2 374.2 153.4 378.5 152.7C382.8 152.0 387.7 150.2 392.1 149.3C396.5 148.4 400.2 147.3 405.0 147.0C409.8 146.7 418.2 147.2 420.8 147.2" fill="none" stroke="#1c1c1c" stroke-width="1.0" stroke-linecap="round"/><path d="M407.2 140.4C407.4 141.7 408.1 145.3 408.5 148.0C408.9 150.7 409.2 155.2 409.3 156.7" fill="none" stroke="#1c1c1c" stroke-width="1.0" stroke-linecap="round"/><path d="M414 150.6H420.6Q423.2 153.6 419.6 156.7H415.4Z" fill="none" stroke="#1c1c1c" stroke-width="1"/><path d="M364.9 194.8C366.7 193.7 372.1 191.4 375.7 188.0C379.3 184.6 383.0 177.8 386.6 174.4C390.2 171.0 393.4 169.8 397.5 167.6C401.6 165.4 407.2 163.1 411.3 161.5C415.4 159.9 420.4 158.4 422.2 157.8" fill="none" stroke="#1c1c1c" stroke-width="1.0" stroke-linecap="round"/><path d="M375.1 188.7C375.2 189.4 375.7 191.8 376.0 193.0C376.3 194.2 376.9 195.7 377.1 196.2" fill="none" stroke="#1c1c1c" stroke-width="1.0" stroke-linecap="round"/><path d="M392.1 177.1C393.4 176.8 397.5 176.0 400.0 175.5C402.5 175.0 405.8 174.2 407.0 174.0" fill="none" stroke="#1c1c1c" stroke-width="1.0" stroke-linecap="round"/><path d="M398.9 181.2C398.9 182.0 398.9 184.6 398.9 186.0C398.9 187.4 398.9 188.8 398.9 189.4" fill="none" stroke="#1c1c1c" stroke-width="1.0" stroke-linecap="round"/><path d="M375.7 270.0C376.8 267.3 380.3 258.6 382.4 253.7C384.4 248.8 386.1 245.1 388.0 240.3C389.9 235.5 391.4 229.9 393.6 224.7C395.8 219.5 399.3 213.7 401.4 209.1C403.5 204.5 404.6 200.2 406.0 197.0C407.4 193.8 408.1 192.7 410.0 190.0C411.9 187.3 415.2 183.5 417.5 181.0C419.8 178.5 421.8 177.0 424.0 175.0C426.2 173.0 429.0 171.0 430.5 169.0C432.0 167.0 431.9 165.1 433.0 163.0C434.1 160.9 435.4 158.3 437.0 156.5C438.6 154.7 440.8 152.8 442.5 152.0C444.2 151.2 446.0 150.8 447.5 151.6C449.0 152.4 450.6 154.9 451.3 157.0C452.0 159.1 451.9 161.8 451.6 164.0C451.3 166.2 448.8 167.8 449.5 170.5C450.2 173.2 453.1 176.3 455.9 180.1C458.6 183.9 463.4 189.0 466.0 193.5C468.6 198.0 470.7 202.5 471.5 206.9C472.3 211.3 471.9 215.0 470.8 220.2C469.7 225.4 467.3 232.5 464.8 238.1C462.3 243.7 459.2 248.4 455.9 253.7C452.6 259.0 448.1 263.9 444.8 270.0C441.5 276.1 443.5 286.7 436.0 290.0C428.5 293.3 406.0 290.0 400.0 290.0Z" fill="#fff" stroke="#1c1c1c" stroke-width="1.1"/><path d="M408.0 189.8C408.0 188.5 408.2 184.8 408.9 182.0C409.6 179.2 410.9 176.1 412.3 173.3C413.7 170.6 415.5 167.9 417.5 165.5C419.5 163.1 422.2 160.6 424.5 158.6C426.8 156.6 429.1 154.8 431.4 153.4C433.7 152.0 436.3 150.9 438.3 150.4C440.3 149.9 442.4 150.2 443.5 150.4C444.6 150.6 445.5 151.2 445.2 151.7C444.9 152.2 442.9 152.7 441.8 153.4C440.7 154.1 439.6 154.4 438.3 156.0C437.0 157.6 435.4 160.9 434.0 162.9C432.6 164.9 431.8 166.2 430.1 168.1C428.4 170.0 426.1 172.2 424.0 174.2C421.9 176.2 419.4 178.3 417.5 180.2C415.6 182.1 413.7 183.8 412.3 185.4C410.9 187.0 409.6 189.1 408.9 189.8C408.2 190.5 408.0 191.1 408.0 189.8Z" fill="#3c3c3f" stroke="#2a2a2a" stroke-width="0.5"/><path d="M406.3 188.5C406.5 187.3 406.8 184.2 407.6 181.5C408.4 178.8 409.7 175.4 411.2 172.6C412.7 169.8 414.4 167.2 416.5 164.7C418.6 162.2 421.2 159.8 423.6 157.7C426.0 155.6 428.3 153.8 430.7 152.4C433.1 151.0 435.8 149.7 438.0 149.2C440.2 148.7 442.8 149.2 443.8 149.2" fill="none" stroke="#e9ecee" stroke-width="1.5" stroke-linecap="round"/><path d="M405.4 187.5C405.6 186.4 405.9 183.6 406.7 181.0C407.5 178.4 408.8 174.8 410.3 172.0C411.8 169.2 413.6 166.5 415.7 164.0C417.8 161.5 420.5 159.0 422.9 156.9C425.3 154.8 427.7 152.9 430.2 151.5C432.7 150.1 435.4 148.7 437.7 148.2C440.0 147.7 442.6 147.9 444.0 148.3C445.4 148.7 445.8 150.2 446.2 150.6" fill="none" stroke="#55595c" stroke-width="0.8" stroke-linecap="round"/><path d="M406.0 197.0C406.6 195.8 408.4 191.7 409.5 189.8C410.6 187.9 411.2 187.2 412.6 185.6C414.0 184.0 415.9 182.3 417.8 180.4C419.8 178.5 422.2 176.4 424.3 174.4C426.4 172.4 428.7 169.9 430.4 168.3C432.1 166.7 433.0 165.4 434.3 164.8C435.6 164.2 437.1 164.4 438.3 164.7C439.5 165.0 440.7 165.7 441.4 166.6C442.1 167.5 442.6 168.4 442.6 170.0C442.6 171.6 442.0 174.1 441.5 176.0C441.0 177.9 440.5 177.6 439.6 181.6C438.7 185.6 439.3 194.4 436.0 200.0C432.7 205.6 422.7 212.5 420.0 215.0Z" fill="#fff" stroke="none"/><path d="M406.0 197.0C406.6 195.8 408.4 191.7 409.5 189.8C410.6 187.9 411.2 187.2 412.6 185.6C414.0 184.0 415.9 182.3 417.8 180.4C419.8 178.5 422.2 176.4 424.3 174.4C426.4 172.4 428.7 169.9 430.4 168.3C432.1 166.7 433.0 165.4 434.3 164.8C435.6 164.2 437.1 164.4 438.3 164.7C439.5 165.0 440.7 165.7 441.4 166.6C442.1 167.5 442.6 168.4 442.6 170.0C442.6 171.6 442.0 174.1 441.5 176.0C441.0 177.9 439.9 180.7 439.6 181.6" fill="none" stroke="#1c1c1c" stroke-width="1.0" stroke-linecap="round"/><path d="M434.6 165.4L441.6 167.6L440.6 171.2" fill="none" stroke="#1c1c1c" stroke-width="0.9"/><path d="M442.6 169.5C443.2 170.0 444.8 171.5 446.0 172.5C447.2 173.5 449.3 175.0 450.0 175.5" fill="none" stroke="#1c1c1c" stroke-width="0.9" stroke-linecap="round"/><path d="M439.6 181.6L438.5 197.5L423.6 216.5L425.6 195.6Z" fill="none" stroke="#1c1c1c" stroke-width="1"/><path d="M463.0 191.0C462.6 195.0 461.4 208.2 460.3 215.0C459.2 221.8 457.6 227.2 456.2 232.0C454.8 236.8 452.7 242.0 452.0 244.0" fill="none" stroke="#1c1c1c" stroke-width="1.0" stroke-linecap="round"/><path d="M468.4 202.0C468.0 205.3 467.1 215.7 466.0 222.0C464.9 228.3 462.7 237.0 462.0 240.0" fill="none" stroke="#1c1c1c" stroke-width="1.0" stroke-linecap="round"/><path d="M427 140.5Q432 141 434.5 147" fill="none" stroke="#b9c9cf" stroke-width="1.3"/><path d="M425.4 139.2l3.6 -0.6l-1 3.4z" fill="#b9c9cf"/><path d="M440 154Q443 157 442.8 162" fill="none" stroke="#b9c9cf" stroke-width="1.3"/><path d="M440.6 161l2.2 3.4l2 -3.6z" fill="#b9c9cf"/></g>
<defs><clipPath id="clip3"><circle cx="689.5" cy="167" r="105.8"/></clipPath></defs><g id="step3" stroke-linejoin="round"><g clip-path="url(#clip3)"><path d="M599.8 290.0C598.3 280.0 592.4 246.7 590.8 230.0C589.2 213.3 590.4 199.2 590.4 190.0C590.4 180.8 590.4 179.5 590.6 174.9C590.8 170.3 591.0 165.8 591.4 162.2C591.8 158.5 592.2 155.8 593.0 153.0C593.8 150.2 594.8 147.5 596.0 145.3C597.2 143.1 598.6 141.7 600.3 140.0C601.9 138.3 603.6 136.7 605.9 135.4C608.1 134.1 611.0 132.9 613.8 132.0C616.6 131.1 619.4 130.6 622.9 129.8C626.4 129.0 631.0 128.2 634.8 127.2C638.5 126.2 642.3 125.4 645.4 124.1C648.5 122.8 650.9 121.1 653.3 119.5C655.6 117.9 657.8 116.0 659.5 114.3C661.2 112.5 662.3 110.9 663.3 109.0C664.2 107.1 664.9 106.3 665.2 103.0C665.5 99.7 665.2 91.7 665.2 88.9C665.2 86.1 665.2 87.0 665.0 86.0C664.8 85.0 664.6 83.7 664.1 82.6C663.6 81.5 662.9 80.5 662.2 79.6C661.4 78.7 660.4 78.2 659.6 77.4C658.8 76.6 658.0 75.6 657.6 74.5C657.2 73.4 657.0 72.2 657.1 71.0C657.1 69.8 657.8 68.0 657.9 67.4L719.9 67.4C720.0 68.0 720.7 69.8 720.7 71.0C720.8 72.2 720.6 73.4 720.2 74.5C719.8 75.6 719.0 76.6 718.2 77.4C717.4 78.2 716.4 78.7 715.6 79.6C714.9 80.5 714.2 81.5 713.7 82.6C713.2 83.7 713.0 85.0 712.8 86.0C712.6 87.0 712.6 86.1 712.6 88.9C712.6 91.7 712.3 99.7 712.6 103.0C712.9 106.3 713.5 107.1 714.5 109.0C715.5 110.9 716.6 112.5 718.3 114.3C720.0 116.0 722.1 117.9 724.5 119.5C726.9 121.1 729.3 122.8 732.4 124.1C735.5 125.4 739.2 126.2 743.0 127.2C746.8 128.2 751.4 129.0 754.9 129.8C758.4 130.6 761.2 131.1 764.0 132.0C766.8 132.9 769.6 134.1 771.9 135.4C774.1 136.7 775.9 138.3 777.5 140.0C779.1 141.7 780.6 143.1 781.8 145.3C783.0 147.5 784.0 150.2 784.8 153.0C785.6 155.8 786.0 158.5 786.4 162.2C786.8 165.8 787.0 170.3 787.2 174.9C787.4 179.5 787.4 180.8 787.4 190.0C787.4 199.2 788.6 213.3 787.0 230.0C785.4 246.7 779.5 280.0 778.0 290.0Z" fill="#fff"/><path d="M599.8 290.0C598.3 280.0 592.4 246.7 590.8 230.0C589.2 213.3 590.4 199.2 590.4 190.0C590.4 180.8 590.4 179.5 590.6 174.9C590.8 170.3 591.0 165.8 591.4 162.2C591.8 158.5 592.2 155.8 593.0 153.0C593.8 150.2 594.8 147.5 596.0 145.3C597.2 143.1 598.6 141.7 600.3 140.0C601.9 138.3 603.6 136.7 605.9 135.4C608.1 134.1 611.0 132.9 613.8 132.0C616.6 131.1 619.4 130.6 622.9 129.8C626.4 129.0 631.0 128.2 634.8 127.2C638.5 126.2 642.3 125.4 645.4 124.1C648.5 122.8 650.9 121.1 653.3 119.5C655.6 117.9 657.8 116.0 659.5 114.3C661.2 112.5 662.3 110.9 663.3 109.0C664.2 107.1 664.9 106.3 665.2 103.0C665.5 99.7 665.2 91.7 665.2 88.9C665.2 86.1 665.2 87.0 665.0 86.0C664.8 85.0 664.6 83.7 664.1 82.6C663.6 81.5 662.9 80.5 662.2 79.6C661.4 78.7 660.4 78.2 659.6 77.4C658.8 76.6 658.0 75.6 657.6 74.5C657.2 73.4 657.0 72.2 657.1 71.0C657.1 69.8 657.8 68.0 657.9 67.4" fill="none" stroke="#2a2a2a" stroke-width="0.9"/><path d="M719.9 67.4C720.0 68.0 720.7 69.8 720.7 71.0C720.8 72.2 720.6 73.4 720.2 74.5C719.8 75.6 719.0 76.6 718.2 77.4C717.4 78.2 716.4 78.7 715.6 79.6C714.9 80.5 714.2 81.5 713.7 82.6C713.2 83.7 713.0 85.0 712.8 86.0C712.6 87.0 712.6 86.1 712.6 88.9C712.6 91.7 712.3 99.7 712.6 103.0C712.9 106.3 713.5 107.1 714.5 109.0C715.5 110.9 716.6 112.5 718.3 114.3C720.0 116.0 722.1 117.9 724.5 119.5C726.9 121.1 729.3 122.8 732.4 124.1C735.5 125.4 739.2 126.2 743.0 127.2C746.8 128.2 751.4 129.0 754.9 129.8C758.4 130.6 761.2 131.1 764.0 132.0C766.8 132.9 769.6 134.1 771.9 135.4C774.1 136.7 775.9 138.3 777.5 140.0C779.1 141.7 780.6 143.1 781.8 145.3C783.0 147.5 784.0 150.2 784.8 153.0C785.6 155.8 786.0 158.5 786.4 162.2C786.8 165.8 787.0 170.3 787.2 174.9C787.4 179.5 787.4 180.8 787.4 190.0C787.4 199.2 788.6 213.3 787.0 230.0C785.4 246.7 779.5 280.0 778.0 290.0" fill="none" stroke="#2a2a2a" stroke-width="0.9"/><path d="M616.8 187.3C617.1 189.9 617.7 197.9 618.5 203.0C619.3 208.1 620.3 212.7 621.4 218.0C622.5 223.3 623.7 229.4 625.0 235.0C626.3 240.6 627.9 247.3 629.1 251.8C630.3 256.3 631.5 260.3 632.0 262.0" fill="none" stroke="#2a2a2a" stroke-width="0.9" stroke-linecap="round"/><path d="M761.0 187.3C760.7 189.9 760.1 197.9 759.3 203.0C758.5 208.1 757.5 212.7 756.4 218.0C755.3 223.3 754.1 229.4 752.8 235.0C751.5 240.6 749.9 247.3 748.7 251.8C747.5 256.3 746.3 260.3 745.8 262.0" fill="none" stroke="#2a2a2a" stroke-width="0.9" stroke-linecap="round"/><path d="M667.4 181.2C667.3 182.8 667.2 187.9 667.0 191.0C666.8 194.1 666.5 197.3 665.9 199.6C665.3 201.8 664.5 203.2 663.5 204.5C662.5 205.8 660.4 206.8 659.8 207.3" fill="none" stroke="#2a2a2a" stroke-width="0.9" stroke-linecap="round"/><path d="M710.4 181.2C710.5 182.8 710.5 187.9 710.8 191.0C711.0 194.1 711.3 197.3 711.9 199.6C712.5 201.8 713.3 203.2 714.3 204.5C715.3 205.8 717.4 206.8 718.0 207.3" fill="none" stroke="#2a2a2a" stroke-width="0.9" stroke-linecap="round"/><path d="M690.4 227.2C690.4 231.0 690.4 242.0 690.4 250.0C690.4 258.0 690.4 270.8 690.4 275.0" fill="none" stroke="#2a2a2a" stroke-width="0.9" stroke-linecap="round"/></g><path d="M688.6 96.0C688.6 97.2 688.4 100.7 688.4 103.0C688.4 105.3 688.6 108.8 688.6 110.0" fill="none" stroke="#555" stroke-width="0.9" stroke-linecap="round"/><path d="M676.4 69.5L676.4 74.7M690.4 73.6L690.2 76.8M657.5 67.9L658.7 71.0M683.0 80.7L682.9 84.1M696.4 81.4L695.7 86.4M719.4 67.5L717.2 70.1M664.5 68.1L666.4 72.1M666.9 71.4L668.0 76.7M691.2 68.5L690.5 71.7M699.9 73.0L699.3 77.1M684.9 72.5L685.4 78.2M671.1 73.1L672.7 78.0M703.1 70.7L701.6 77.1M682.6 79.5L682.9 83.0M657.6 68.2L659.5 71.1M712.8 68.7L711.4 74.1M693.3 74.7L693.7 80.7M686.3 78.7L686.7 81.9M697.7 81.4L696.8 86.5M680.5 77.5L680.9 80.6M666.1 68.2L667.8 71.4M663.5 68.5L665.6 72.9M660.3 68.0L662.6 72.9M709.1 73.3L707.7 77.3M678.7 80.1L678.7 86.4M666.6 69.0L667.9 72.8M693.9 71.6L693.4 74.6M679.4 75.7L680.2 82.1M689.0 77.9L688.2 83.3M714.4 69.3L713.3 74.8M680.9 73.6L681.5 76.9M659.1 67.6L660.3 71.3M677.4 68.2L677.5 71.2M661.7 68.4L663.9 71.5M695.5 69.7L694.8 73.6M679.0 69.3L680.4 75.2M685.8 75.6L685.3 78.9M677.6 71.1L677.7 77.0M656.5 68.5L657.8 70.0M690.8 67.9L691.4 72.8M712.0 70.6L710.3 74.5M666.0 72.2L667.8 77.0M676.8 70.5L678.2 76.3M711.3 71.5L710.3 77.4M670.0 72.2L670.3 76.4M656.8 67.8L659.0 70.3M718.1 67.9L717.1 71.3M718.0 67.9L715.8 71.4M668.0 69.0L669.8 74.2M710.5 70.2L709.6 75.5M660.6 68.4L662.7 73.9M704.5 72.3L704.0 75.9M676.9 78.2L677.4 84.6M681.5 82.1L681.4 87.7M663.4 68.1L665.4 74.3M664.6 71.6L666.3 77.4M678.1 75.2L677.9 78.6M719.1 68.1L717.9 70.4M683.6 81.6L683.4 87.5M671.6 70.5L672.7 74.3M672.1 71.9L673.7 75.4M678.3 73.9L679.6 79.0M682.8 82.1L683.1 86.8M689.6 67.8L689.0 72.4M655.3 68.3L657.2 68.8M702.9 73.7L702.0 77.8M691.7 80.3L691.5 83.7M671.4 70.3L672.4 76.0M692.1 79.9L691.7 86.1M695.4 75.1L695.3 79.9M684.9 76.3L685.7 81.0M701.1 78.2L700.0 84.5M691.9 82.9L691.1 88.8M663.0 69.1L664.1 72.3M659.8 68.2L662.2 73.2M665.2 71.3L666.0 76.7M713.3 70.7L712.5 74.5M681.3 75.0L682.2 81.4M665.7 70.0L666.7 74.8M667.9 69.9L668.4 75.4M691.6 74.7L691.1 77.8M696.2 75.1L696.5 78.3M707.0 75.6L705.5 78.9M657.6 68.3L658.8 71.1M682.9 82.0L682.8 87.9M664.9 72.2L666.6 77.2M660.9 67.6L662.4 73.0M659.8 68.4L662.0 73.2M660.5 68.6L662.8 71.9M684.9 73.1L685.8 78.0M672.7 68.9L673.2 73.7M662.2 68.0L663.3 71.1M675.6 71.3L676.0 77.0M688.0 70.5L687.2 74.7M671.5 67.7L672.6 73.2M667.5 70.9L668.1 77.2M709.0 70.4L708.3 75.2M680.9 75.2L682.1 80.6M677.6 78.9L678.5 84.4M681.7 72.9L681.5 76.1M659.7 68.2L660.8 72.1M660.6 68.7L662.5 73.9M673.6 70.3L674.4 74.3M665.4 70.0L667.5 73.9M719.2 68.0L718.1 70.3M675.4 72.0L676.0 75.0M686.3 76.0L686.4 79.7M655.3 67.8L657.1 68.8M657.8 67.5L659.1 71.2M693.6 75.8L693.6 81.5M702.3 77.6L701.1 82.0M720.0 67.6L718.3 69.5M657.9 68.3L659.9 71.4M703.4 76.3L702.5 79.7M688.3 81.7L688.8 87.5M693.5 81.6L693.5 87.0M670.2 67.8L671.0 71.3M661.9 69.7L663.7 74.6M696.3 77.5L695.0 82.2M707.6 73.4L706.5 78.1M698.5 68.4L697.5 74.0M659.9 67.8L661.1 73.3M703.8 77.8L702.7 82.5M686.6 79.0L686.9 84.7M697.4 68.6L696.5 72.1M704.1 70.7L702.3 75.6M659.0 67.8L661.1 72.4M699.6 71.3L698.8 76.1M685.8 69.5L685.4 75.6M719.6 68.4L717.6 70.0M709.1 74.0L707.5 78.6M668.8 75.3L670.1 79.0M664.4 70.0L665.2 76.3M709.1 70.9L708.2 77.0M670.3 75.8L670.6 80.5M655.2 68.0L656.9 68.7M664.3 69.1L666.3 73.2M655.1 68.3L656.5 68.6M716.1 68.2L714.1 73.2M679.6 73.2L680.2 79.7M678.8 73.6L678.6 77.6M661.7 69.5L664.0 73.5M671.5 70.2L672.0 75.0M679.6 81.5L680.6 87.2M696.6 80.8L696.2 87.0M702.5 68.1L701.5 73.6M704.7 73.9L703.0 77.9M716.2 67.6L714.2 72.3M674.7 76.4L675.1 82.8M698.3 71.6L697.5 76.6" fill="none" stroke="#8f9497" stroke-width="0.8" stroke-linecap="round"/><path d="M643.5 124.1C644.7 123.3 646.1 122.7 647.5 122.2C648.9 121.7 650.5 121.6 652.0 121.3C653.5 121.0 655.1 120.6 656.5 120.6C657.9 120.6 659.3 120.8 660.4 121.3C661.5 121.8 662.5 122.6 663.2 123.6C663.9 124.5 664.4 125.8 664.7 127.0C665.0 128.2 664.8 129.3 665.0 130.5C665.2 131.7 665.4 133.0 666.1 134.0C666.9 135.0 668.1 135.6 669.5 136.3C670.9 137.0 673.0 137.4 674.5 138.2C676.0 139.0 677.3 140.0 678.3 141.2C679.2 142.4 680.0 143.9 680.2 145.3C680.5 146.7 680.3 148.4 679.8 149.8C679.3 151.2 678.4 152.4 677.3 153.8C676.2 155.2 674.6 156.6 673.0 158.0C671.4 159.4 669.3 160.9 667.5 162.2C665.7 163.4 663.9 164.6 662.0 165.5C660.1 166.4 658.0 167.3 656.2 167.9C654.5 168.5 652.9 168.8 651.5 168.8C650.1 168.8 648.8 168.6 647.7 167.9C646.6 167.2 645.7 166.0 645.0 164.8C644.3 163.6 643.9 162.2 643.5 160.8C643.1 159.4 643.1 157.9 642.9 156.5C642.7 155.1 642.7 153.5 642.1 152.4C641.5 151.3 640.4 150.6 639.2 149.8C638.0 149.0 636.2 148.3 635.0 147.6C633.8 146.9 632.9 146.2 632.2 145.4C631.5 144.6 630.9 143.6 630.8 142.5C630.7 141.4 630.9 140.0 631.4 138.8C631.9 137.6 632.9 136.4 633.6 135.4C634.3 134.4 634.8 133.6 635.5 132.8C636.2 132.0 637.0 131.4 637.8 130.4C638.6 129.4 639.5 128.1 640.5 127.0C641.5 126.0 642.3 124.9 643.5 124.1Z" fill="#fff" stroke="#3a3a3a" stroke-width="1.1"/><path d="M734.3 124.1C733.1 123.3 731.7 122.7 730.3 122.2C728.9 121.7 727.3 121.6 725.8 121.3C724.3 121.0 722.7 120.6 721.3 120.6C719.9 120.6 718.5 120.8 717.4 121.3C716.3 121.8 715.3 122.6 714.6 123.6C713.9 124.5 713.4 125.8 713.1 127.0C712.8 128.2 713.0 129.3 712.8 130.5C712.6 131.7 712.4 133.0 711.7 134.0C710.9 135.0 709.7 135.6 708.3 136.3C706.9 137.0 704.8 137.4 703.3 138.2C701.8 139.0 700.5 140.0 699.5 141.2C698.5 142.4 697.8 143.9 697.6 145.3C697.3 146.7 697.5 148.4 698.0 149.8C698.5 151.2 699.4 152.4 700.5 153.8C701.6 155.2 703.2 156.6 704.8 158.0C706.4 159.4 708.5 160.9 710.3 162.2C712.1 163.4 713.9 164.6 715.8 165.5C717.7 166.4 719.8 167.3 721.6 167.9C723.3 168.5 724.9 168.8 726.3 168.8C727.7 168.8 729.0 168.6 730.1 167.9C731.2 167.2 732.1 166.0 732.8 164.8C733.5 163.6 733.9 162.2 734.3 160.8C734.6 159.4 734.7 157.9 734.9 156.5C735.1 155.1 735.1 153.5 735.7 152.4C736.3 151.3 737.4 150.6 738.6 149.8C739.8 149.0 741.6 148.3 742.8 147.6C744.0 146.9 744.9 146.2 745.6 145.4C746.3 144.6 746.9 143.6 747.0 142.5C747.1 141.4 746.9 140.0 746.4 138.8C745.9 137.6 744.9 136.4 744.2 135.4C743.5 134.4 743.0 133.6 742.3 132.8C741.6 132.0 740.8 131.4 740.0 130.4C739.2 129.4 738.2 128.1 737.3 127.0C736.3 126.0 735.5 124.9 734.3 124.1Z" fill="#fff" stroke="#3a3a3a" stroke-width="1.1"/><path d="M645.6 123.2C646.4 126 645.0 128.4 645.3 130.6C645.8 133.2 650.0 133.2 650.3 130.6C650.5 128.2 648.0 126 647.2 123" fill="#fff" stroke="#555" stroke-width="0.8"/><path d="M650.5 137.5L656.0 136" stroke="#b5b9bc" stroke-width="0.7"/><path d="M732.2 123.2C731.4 126 732.8 128.4 732.5 130.6C732.0 133.2 727.8 133.2 727.5 130.6C727.3 128.2 729.8 126 730.6 123" fill="#fff" stroke="#555" stroke-width="0.8"/><path d="M727.3 137.5L721.8 136" stroke="#b5b9bc" stroke-width="0.7"/></g>
<g id="m1" stroke-linejoin="round"><path d="M93.7 601.5C97.1 599.2 107.6 593.3 114.1 587.6C120.6 581.9 126.5 573.0 132.7 567.1C138.9 561.2 144.8 556.3 151.3 552.3C157.8 548.3 164.6 545.3 171.7 543.0C178.8 540.7 186.6 539.3 194.0 538.4C201.4 537.5 209.5 537.5 216.3 537.4C223.1 537.3 230.3 537.3 235.0 537.6C239.7 537.9 241.8 538.6 244.4 539.4C247.0 540.2 249.0 541.2 250.5 542.5C252.0 543.8 253.2 545.5 253.6 547.0C254.0 548.5 253.9 550.2 253.2 551.5C252.5 552.8 251.0 553.8 249.5 554.5C248.0 555.2 243.9 554.8 244.0 555.5C244.1 556.2 247.1 558.0 250.0 558.6C252.9 559.2 259.1 558.7 261.7 559.2C264.3 559.7 264.7 560.4 265.6 561.5C266.5 562.6 266.9 564.3 267.0 566.0C267.1 567.7 267.0 570.1 266.0 571.5C265.0 572.9 263.7 574.0 261.0 574.6C258.3 575.2 250.7 574.9 250.0 575.4C249.3 575.9 255.2 577.1 256.8 577.8C258.4 578.5 258.8 578.6 259.5 579.5C260.2 580.4 261.1 581.7 261.3 583.0C261.5 584.3 261.4 586.3 260.5 587.5C259.6 588.7 258.1 589.5 256.0 590.0C253.9 590.5 250.7 589.9 248.0 590.2C245.3 590.5 242.7 588.7 240.0 592.0C237.3 595.3 235.0 604.0 232.0 610.0C229.0 616.0 225.9 624.6 222.0 628.0C218.1 631.4 212.6 628.7 208.8 630.3C205.1 631.9 203.2 634.9 199.5 637.7C195.8 640.5 191.8 643.9 186.5 647.0C181.2 650.1 174.8 653.7 168.0 656.3C161.2 658.9 153.1 660.9 145.7 662.8C138.3 664.6 127.1 666.6 123.4 667.4Z" fill="#fff"/><path d="M93.7 601.5C97.1 599.2 107.6 593.3 114.1 587.6C120.6 581.9 126.5 573.0 132.7 567.1C138.9 561.2 144.8 556.3 151.3 552.3C157.8 548.3 164.6 545.3 171.7 543.0C178.8 540.7 186.6 539.3 194.0 538.4C201.4 537.5 209.5 537.5 216.3 537.4C223.1 537.3 230.3 537.3 235.0 537.6C239.7 537.9 241.8 538.6 244.4 539.4C247.0 540.2 249.0 541.2 250.5 542.5C252.0 543.8 253.2 545.5 253.6 547.0C254.0 548.5 253.9 550.2 253.2 551.5C252.5 552.8 251.0 553.8 249.5 554.5C248.0 555.2 243.9 554.8 244.0 555.5C244.1 556.2 247.1 558.0 250.0 558.6C252.9 559.2 259.1 558.7 261.7 559.2C264.3 559.7 264.7 560.4 265.6 561.5C266.5 562.6 266.9 564.3 267.0 566.0C267.1 567.7 267.0 570.1 266.0 571.5C265.0 572.9 263.7 574.0 261.0 574.6C258.3 575.2 250.7 574.9 250.0 575.4C249.3 575.9 255.2 577.1 256.8 577.8C258.4 578.5 258.8 578.6 259.5 579.5C260.2 580.4 261.1 581.7 261.3 583.0C261.5 584.3 261.4 586.3 260.5 587.5C259.6 588.7 258.1 589.5 256.0 590.0C253.9 590.5 250.7 589.9 248.0 590.2C245.3 590.5 242.7 588.7 240.0 592.0C237.3 595.3 235.0 604.0 232.0 610.0C229.0 616.0 225.9 624.6 222.0 628.0C218.1 631.4 212.6 628.7 208.8 630.3C205.1 631.9 203.2 634.9 199.5 637.7C195.8 640.5 191.8 643.9 186.5 647.0C181.2 650.1 174.8 653.7 168.0 656.3C161.2 658.9 153.1 660.9 145.7 662.8C138.3 664.6 127.1 666.6 123.4 667.4" fill="none" stroke="#1c1c1c" stroke-width="1.1"/><path d="M160.6 610.8C161.8 609.4 166.2 605.6 168.0 602.4C169.8 599.1 171.1 593.1 171.7 591.3" fill="none" stroke="#1c1c1c" stroke-width="0.9" stroke-linecap="round"/><path d="M158.7 639.5C160.2 638.0 165.5 634.0 168.0 630.3C170.5 626.6 172.5 621.3 173.6 617.3C174.7 613.2 174.3 607.9 174.5 606.0" fill="none" stroke="#1c1c1c" stroke-width="0.9" stroke-linecap="round"/><path d="M181.0 602.4C181.6 604.2 182.8 609.8 184.7 613.5C186.5 617.2 190.9 622.8 192.1 624.7" fill="none" stroke="#1c1c1c" stroke-width="0.9" stroke-linecap="round"/><path d="M196.8 621.0C197.6 622.2 200.5 626.2 201.4 628.4C202.3 630.6 202.2 633.1 202.3 634.0" fill="none" stroke="#1c1c1c" stroke-width="0.9" stroke-linecap="round"/><path d="M194.9 551.8C196.2 549.6 197.3 549.3 199.0 548.5C200.7 547.7 202.2 547.2 204.8 546.9C207.4 546.5 211.5 546.3 214.7 546.4C217.9 546.5 221.1 546.8 224.0 547.5C226.9 548.2 229.6 549.4 232.0 550.5C234.4 551.6 236.8 552.0 238.2 554.3C239.6 556.6 240.4 560.4 240.7 564.2C241.0 568.0 239.5 573.7 239.9 577.0C240.3 580.3 240.8 581.6 243.2 584.0C245.6 586.4 251.0 589.3 254.3 591.4C257.6 593.5 261.1 594.3 263.0 596.4C264.9 598.5 265.4 601.5 265.4 603.8C265.4 606.1 264.6 608.2 263.0 610.0C261.4 611.8 258.3 612.8 256.0 614.5C253.7 616.2 250.7 618.7 249.0 620.0C247.3 621.3 247.2 621.0 245.6 622.4C244.0 623.8 242.1 627.0 239.4 628.6C236.7 630.2 232.8 631.7 229.5 632.3C226.2 632.9 222.5 632.9 219.6 632.3C216.7 631.7 213.8 630.9 212.2 628.6C210.5 626.3 210.3 622.8 209.7 618.7C209.1 614.6 210.6 607.5 208.5 603.8C206.4 600.1 200.8 598.9 197.3 596.4C193.8 593.9 189.2 591.9 187.4 589.0C185.6 586.1 185.8 582.0 186.2 579.1C186.6 576.2 189.1 574.5 189.9 571.6C190.7 568.7 190.3 565.0 191.1 561.7C191.9 558.4 193.6 554.0 194.9 551.8Z" fill="#3b3b3e" stroke="#222" stroke-width="0.8"/><path d="M240.5 556.0C241.4 556.3 244.4 557.2 246.0 557.6C247.6 558.0 249.3 558.4 250.0 558.6" fill="none" stroke="#1c1c1c" stroke-width="0.9" stroke-linecap="round"/><path d="M241.0 576.0C241.8 576.0 244.5 575.9 246.0 575.8C247.5 575.7 249.3 575.5 250.0 575.4" fill="none" stroke="#1c1c1c" stroke-width="0.9" stroke-linecap="round"/><path d="M212.2 487.4H226.2Q226.9 496 225.8 504.2Q219 505.8 212.4 504.2Q211.4 496 212.2 487.4Z" fill="#fff"/><path d="M213.2 505.0L212.8 520.6M212.6 525.8L212.2 542.3M212.0 549.0L211.8 558.0M211.7 561.0L211.2 580.8M211.1 585.3L210.8 596.6M214.7 505.0L214.5 524.7M214.4 530.6L214.2 547.5M214.1 551.4L213.9 568.3M213.8 576.5L213.7 591.8M216.2 505.0L216.2 513.9M216.2 521.4L216.3 537.7M216.3 542.5L216.3 551.0M216.3 559.2L216.3 573.8M216.4 581.1L216.4 600.0M217.7 505.0L217.9 518.5M218.1 526.3L218.3 540.6M218.4 549.2L218.8 569.5M218.9 573.1L219.0 583.0M219.1 587.3L219.3 600.0M219.2 505.0L219.5 517.2M219.7 523.3L220.0 536.7M220.1 541.8L220.5 558.0M220.7 564.5L221.2 585.1M221.4 592.2L221.6 600.0M220.7 505.0L221.4 522.4M221.6 526.4L222.4 546.4M222.8 555.2L223.6 575.9M223.9 582.3L224.6 600.0M222.2 505.0L223.0 521.0M223.2 525.7L223.7 534.6M224.1 542.8L225.2 564.6M225.4 568.1L226.4 587.3M226.6 592.8L227.0 600.0M223.7 505.0L224.9 525.2M225.1 528.5L226.2 545.1M226.4 548.4L227.5 566.4M227.8 571.4L229.0 591.7M225.2 505.0L226.7 527.0M227.1 531.8L227.7 540.9M228.2 547.5L228.7 556.0M229.0 560.1L230.0 573.8M230.5 580.5L231.2 590.7M231.4 594.0L231.8 600.0" fill="none" stroke="#e6eef3" stroke-opacity="0.62" stroke-width="0.9" stroke-linecap="round"/><path d="M224.6 589.0C225.2 588.2 226.9 584.9 228.3 584.0C229.7 583.1 230.5 582.0 233.2 583.5C235.9 585.0 239.7 589.1 244.4 592.7C249.2 596.3 255.9 600.8 261.7 605.1C267.5 609.4 273.4 613.1 279.1 618.7C284.8 624.3 293.1 635.2 295.9 638.5L275.3 668.2C273.9 666.6 270.2 662.4 266.7 658.3C263.2 654.2 258.9 649.2 254.3 643.4C249.8 637.6 243.5 629.4 239.4 623.6C235.3 617.8 232.1 613.3 229.5 608.8C226.9 604.3 224.9 599.7 224.1 596.4C223.3 593.1 224.5 590.2 224.6 589.0Z" fill="#fff"/><path d="M224.6 589.0C225.2 588.2 226.9 584.9 228.3 584.0C229.7 583.1 230.5 582.0 233.2 583.5C235.9 585.0 239.7 589.1 244.4 592.7C249.2 596.3 255.9 600.8 261.7 605.1C267.5 609.4 273.4 613.1 279.1 618.7C284.8 624.3 293.1 635.2 295.9 638.5" fill="none" stroke="#1c1c1c" stroke-width="1.1"/><path d="M275.3 668.2C273.9 666.6 270.2 662.4 266.7 658.3C263.2 654.2 258.9 649.2 254.3 643.4C249.8 637.6 243.5 629.4 239.4 623.6C235.3 617.8 232.1 613.3 229.5 608.8C226.9 604.3 224.9 599.7 224.1 596.4C223.3 593.1 224.5 590.2 224.6 589.0" fill="none" stroke="#1c1c1c" stroke-width="1.1"/><path d="M225.8 592.7C226.8 594.2 230.0 600.2 232.0 601.5C234.0 602.8 235.9 601.4 238.0 600.5C240.1 599.6 243.3 597.1 244.4 596.4" fill="none" stroke="#1c1c1c" stroke-width="0.9" stroke-linecap="round"/><path transform="translate(204.8 529.5) rotate(15) scale(1.06)" d="M0 -3.6C1 -1.2 1.9 0.4 1.9 1.7A1.9 1.9 0 0 1 -1.9 1.7C-1.9 0.4 -1 -1.2 0 -3.6Z" fill="#fff"/><path transform="translate(188.7 589.5) rotate(10) scale(0.83)" d="M0 -3.6C1 -1.2 1.9 0.4 1.9 1.7A1.9 1.9 0 0 1 -1.9 1.7C-1.9 0.4 -1 -1.2 0 -3.6Z" fill="#fff" stroke="#1c1c1c" stroke-width="0.7"/><path transform="translate(197.8 609) rotate(15) scale(1.06)" d="M0 -3.6C1 -1.2 1.9 0.4 1.9 1.7A1.9 1.9 0 0 1 -1.9 1.7C-1.9 0.4 -1 -1.2 0 -3.6Z" fill="#fff" stroke="#1c1c1c" stroke-width="0.7"/><path transform="translate(190.4 641) rotate(20) scale(1.06)" d="M0 -3.6C1 -1.2 1.9 0.4 1.9 1.7A1.9 1.9 0 0 1 -1.9 1.7C-1.9 0.4 -1 -1.2 0 -3.6Z" fill="#fff" stroke="#1c1c1c" stroke-width="0.7"/><path transform="translate(211 638.5) rotate(15) scale(1.12)" d="M0 -3.6C1 -1.2 1.9 0.4 1.9 1.7A1.9 1.9 0 0 1 -1.9 1.7C-1.9 0.4 -1 -1.2 0 -3.6Z" fill="#fff"/><path transform="translate(225.8 635.5) rotate(5) scale(1.00)" d="M0 -3.6C1 -1.2 1.9 0.4 1.9 1.7A1.9 1.9 0 0 1 -1.9 1.7C-1.9 0.4 -1 -1.2 0 -3.6Z" fill="#fff"/><path transform="translate(241.9 638.5) rotate(-25) scale(1.06)" d="M0 -3.6C1 -1.2 1.9 0.4 1.9 1.7A1.9 1.9 0 0 1 -1.9 1.7C-1.9 0.4 -1 -1.2 0 -3.6Z" fill="#fff"/><path transform="translate(237 648.4) rotate(-35) scale(1.12)" d="M0 -3.6C1 -1.2 1.9 0.4 1.9 1.7A1.9 1.9 0 0 1 -1.9 1.7C-1.9 0.4 -1 -1.2 0 -3.6Z" fill="#fff"/><path transform="translate(215.9 650.9) rotate(12) scale(1.18)" d="M0 -3.6C1 -1.2 1.9 0.4 1.9 1.7A1.9 1.9 0 0 1 -1.9 1.7C-1.9 0.4 -1 -1.2 0 -3.6Z" fill="#fff"/><path transform="translate(199.8 658.8) rotate(12) scale(1.18)" d="M0 -3.6C1 -1.2 1.9 0.4 1.9 1.7A1.9 1.9 0 0 1 -1.9 1.7C-1.9 0.4 -1 -1.2 0 -3.6Z" fill="#fff"/></g>
<defs><clipPath id="clip5"><circle cx="580.5" cy="587" r="113.8"/></clipPath></defs><g id="m2" stroke-linejoin="round"><path d="M543.5 571.9C543.0 573.9 541.5 579.8 540.5 583.8C539.5 587.8 539.9 591.3 537.6 595.6C535.3 599.9 530.0 605.5 526.7 609.5C523.4 613.5 519.8 616.1 517.8 619.4C515.8 622.7 514.3 625.7 514.8 629.3C515.3 632.9 517.4 637.9 520.7 641.2C524.0 644.5 530.0 647.3 534.6 649.1C539.2 650.9 544.7 651.6 548.5 652.1C552.3 652.6 555.9 652.1 557.4 652.1" fill="none" stroke="#14233f" stroke-width="1.15" stroke-linecap="round"/><path d="M510.8 612.5C510.0 614.3 506.4 619.6 505.9 623.4C505.4 627.2 507.6 633.2 507.9 635.2" fill="none" stroke="#14233f" stroke-width="1.15" stroke-linecap="round"/><path d="M593.9 552.2C594.6 553.0 597.1 554.7 598.3 556.7C599.5 558.7 600.7 560.9 601.3 564.1C601.9 567.3 601.1 572.2 601.9 575.8C602.7 579.4 603.6 582.7 605.9 585.7C608.2 588.7 612.8 591.4 615.8 593.7C618.8 596.0 621.9 597.3 623.7 599.6C625.5 601.9 626.7 604.2 626.7 607.5C626.7 610.8 625.2 615.4 623.7 619.4C622.2 623.4 620.4 627.3 617.8 631.3C615.2 635.3 611.2 640.1 607.9 643.2C604.6 646.3 601.0 649.1 598.0 650.1C595.0 651.1 592.0 649.8 590.0 649.1C588.0 648.4 586.8 646.6 586.1 646.1" fill="none" stroke="#14233f" stroke-width="1.15" stroke-linecap="round"/><path d="M628.7 585.7C630.2 586.7 635.5 589.4 637.6 591.7C639.7 594.0 641.0 597.0 641.5 599.6C642.0 602.2 640.7 606.2 640.5 607.5" fill="none" stroke="#14233f" stroke-width="1.15" stroke-linecap="round"/><g clip-path="url(#clip5)"><path d="M556.0 562.5C555.6 562.3 554.0 562.8 553.8 561.1C553.5 559.4 555.5 555.4 554.5 552.2C553.5 549.0 549.9 545.3 547.8 541.8C545.7 538.3 542.4 535.6 541.9 531.4C541.4 527.2 543.7 521.6 544.9 516.6C546.1 511.7 548.1 506.1 549.3 501.7C550.5 497.2 551.1 493.2 552.3 489.9C553.5 486.6 555.6 483.1 556.3 481.8L582.2 472.9L600 462L650 462L630.2 485.4C628.4 487.9 622.4 495.8 619.1 500.2C615.8 504.6 613.4 507.9 610.2 512.1C607.0 516.3 603.0 521.3 599.8 525.5C596.6 529.7 593.4 533.9 590.9 537.4C588.4 540.9 587.0 543.6 585.0 546.3C583.0 549.0 581.2 551.5 579.0 553.5C576.8 555.5 574.3 556.8 572.0 558.0C569.7 559.2 566.2 560.1 565.0 560.5" fill="#fff" stroke="#1c1c1c" stroke-width="1.0"/></g><path d="M554.5 562.6C556.3 561.4 558.4 560.7 560.5 560.0C562.6 559.3 564.9 558.9 567.1 558.2C569.3 557.5 571.5 556.4 573.5 555.6C575.5 554.9 577.2 554.2 579.0 553.7C580.8 553.2 582.8 552.7 584.5 552.6C586.2 552.5 588.0 552.6 589.4 553.0C590.8 553.4 591.8 554.1 592.6 555.0C593.4 555.9 594.0 557.3 594.4 558.6C594.8 559.9 594.9 561.1 595.0 563.0C595.1 564.9 595.3 567.1 595.0 569.9C594.7 572.7 593.5 576.5 593.0 579.8C592.5 583.1 591.7 586.7 592.0 589.7C592.3 592.7 593.7 595.0 595.0 597.6C596.3 600.2 598.4 602.9 600.0 605.5C601.6 608.1 603.9 610.5 604.9 613.5C605.9 616.5 606.4 620.4 605.9 623.4C605.4 626.4 603.9 629.0 601.9 631.3C599.9 633.6 597.0 635.6 594.0 637.2C591.0 638.9 587.4 639.7 584.1 641.2C580.8 642.7 577.5 645.2 574.2 646.1C570.9 647.0 567.3 646.9 564.3 646.3C561.3 645.6 558.1 644.1 556.4 642.2C554.7 640.4 554.2 638.0 554.0 635.2C553.8 632.4 554.7 628.6 555.4 625.3C556.1 622.0 557.8 618.7 558.0 615.4C558.2 612.1 557.7 608.5 556.4 605.5C555.1 602.5 552.4 600.2 550.4 597.6C548.4 595.0 545.7 592.7 544.5 589.7C543.3 586.7 543.1 582.7 543.3 579.8C543.5 576.9 544.5 574.6 545.5 572.5C546.5 570.4 548.0 568.6 549.5 567.0C551.0 565.4 552.7 563.8 554.5 562.6Z" fill="#fff" stroke="#1c1c1c" stroke-width="0.9"/><circle cx="567.8" cy="569" r="1.3" fill="#333"/><path d="M561.9 544.8L568.6 541.8Q573 547 577.5 552.2Q571 557.5 566 558.4Q560.5 557.5 561.9 544.8Z" fill="#fff" stroke="#1c1c1c" stroke-width="1.0"/><path d="M558.2 547.8C557.7 549.0 555.8 552.9 555.2 555.2C554.6 557.5 554.7 560.7 554.6 561.8" fill="none" stroke="#1c1c1c" stroke-width="0.9" stroke-linecap="round"/><path d="M569.4 501.0C570.0 502.4 571.5 506.6 573.1 509.2C574.7 511.8 578.0 515.4 579.0 516.6" fill="none" stroke="#1c1c1c" stroke-width="0.9" stroke-linecap="round"/><path d="M584.2 509.2C583.3 510.7 580.9 515.1 579.0 518.1C577.1 521.1 575.1 524.0 573.1 527.0C571.1 530.0 568.8 533.2 567.1 535.9C565.4 538.6 563.4 542.1 562.7 543.3" fill="none" stroke="#1c1c1c" stroke-width="0.9" stroke-linecap="round"/><path d="M561.2 515.1C561.8 515.1 563.8 515.5 565.0 515.4C566.2 515.3 567.5 515.1 568.6 514.4C569.7 513.7 571.0 511.6 571.5 511.0" fill="none" stroke="#1c1c1c" stroke-width="0.9" stroke-linecap="round"/><path d="M551.5 531.4C552.6 531.4 556.1 532.6 558.2 531.4C560.3 530.2 561.5 526.2 564.2 524.0C566.9 521.8 572.9 519.1 574.6 518.1" fill="none" stroke="#1c1c1c" stroke-width="0.9" stroke-linecap="round"/><path d="M558.2 532.2C558.5 533.2 559.4 536.4 560.0 538.5C560.6 540.6 561.6 543.8 561.9 544.8" fill="none" stroke="#1c1c1c" stroke-width="0.9" stroke-linecap="round"/><path d="M565.6 524.0C566.4 523.5 568.4 521.2 570.1 521.0C571.8 520.8 575.0 522.2 576.0 522.5" fill="none" stroke="#1c1c1c" stroke-width="0.9" stroke-linecap="round"/><path d="M567.1 525.5C567.0 526.2 566.9 528.5 566.8 530.0C566.7 531.5 566.5 533.7 566.4 534.4" fill="none" stroke="#1c1c1c" stroke-width="0.9" stroke-linecap="round"/><path d="M576.0 535.9C576.4 536.7 577.6 539.1 578.5 540.5C579.4 541.9 580.8 543.5 581.2 544.1" fill="none" stroke="#1c1c1c" stroke-width="0.9" stroke-linecap="round"/><g opacity="0.99" font-family="Liberation Sans, sans-serif" font-weight="bold" font-size="12.2" fill="#3c3c3e" stroke="#3c3c3e" stroke-width="0.55"><path d="M569.3 608.5L582.1 602.6Q587.3 600.6 588.3 605.5L590 619.4M567.3 610.5L566.3 619.4L569.3 635.2Q570 638.4 573 637.4L576.2 636.4" fill="none" stroke="#4a4a4c" stroke-width="1.0" stroke-linecap="round"/><g transform="matrix(0.585 -0.148 -0.075 1 566.5 618.8)"><text x="0" y="0">Long</text><text x="9.5" y="10.6">Life</text><text x="19" y="21.2">Pad</text></g></g><path transform="translate(542.5 636.2) rotate(14) scale(1.25 1.375)" d="M0 -4.2C0.9 -1.4 1.7 0.4 1.7 1.9A1.7 1.7 0 0 1 -1.7 1.9C-1.7 0.4 -0.9 -1.4 0 -4.2Z" fill="#fff"/><path transform="translate(543.1 661) rotate(12) scale(1.25 1.375)" d="M0 -4.2C0.9 -1.4 1.7 0.4 1.7 1.9A1.7 1.7 0 0 1 -1.7 1.9C-1.7 0.4 -0.9 -1.4 0 -4.2Z" fill="#fff"/><path transform="translate(555.4 661) rotate(14) scale(1.25 1.375)" d="M0 -4.2C0.9 -1.4 1.7 0.4 1.7 1.9A1.7 1.7 0 0 1 -1.7 1.9C-1.7 0.4 -0.9 -1.4 0 -4.2Z" fill="#fff"/><path transform="translate(615.8 615.4) rotate(-38) scale(1.3 1.885)" d="M0 -4.2C0.9 -1.4 1.7 0.4 1.7 1.9A1.7 1.7 0 0 1 -1.7 1.9C-1.7 0.4 -0.9 -1.4 0 -4.2Z" fill="#fff"/><path transform="translate(633.6 633.3) rotate(-55) scale(1.3 1.885)" d="M0 -4.2C0.9 -1.4 1.7 0.4 1.7 1.9A1.7 1.7 0 0 1 -1.7 1.9C-1.7 0.4 -0.9 -1.4 0 -4.2Z" fill="#fff"/><path transform="translate(634.6 646.7) rotate(-62) scale(1.3 1.885)" d="M0 -4.2C0.9 -1.4 1.7 0.4 1.7 1.9A1.7 1.7 0 0 1 -1.7 1.9C-1.7 0.4 -0.9 -1.4 0 -4.2Z" fill="#fff"/><path transform="translate(617.8 651.1) rotate(-45) scale(1.3 1.885)" d="M0 -4.2C0.9 -1.4 1.7 0.4 1.7 1.9A1.7 1.7 0 0 1 -1.7 1.9C-1.7 0.4 -0.9 -1.4 0 -4.2Z" fill="#fff"/></g>
</svg>
<h1>HOW TO USE LONG-LIFE PAD</h1>
<div class="rule"></div>
<h2>MAINTENANCE</h2>

<div class="badge" style="left:32.4px;top:263px;">1</div>
<p class="t" id="s1" style="left:56.4px;top:285.4px;"><span style="letter-spacing:0.096px">Attach cord plug to</span><span style="letter-spacing:-0.385px">the Long-Life Pad.</span></p>

<div class="badge" style="left:299.6px;top:262px;">2</div>
<p class="t" id="s2" style="left:324.8px;top:285.4px;"><span style="letter-spacing:-0.066px">Remove the transparent</span><span style="letter-spacing:0.164px">film prior to using the</span><span style="letter-spacing:-0.561px">Long-Life Pad.</span></p>

<div class="badge" style="left:554.8px;top:263px;">3</div>
<p class="t" id="s3" style="left:578.4px;top:285.4px;"><span style="letter-spacing:-0.127px">Apply both pads on clean,</span><span style="letter-spacing:0.018px">dry and healthy skin, at least</span><span style="letter-spacing:-0.095px">1 inch apart, where you feel</span><span style="letter-spacing:-0.195px">pain. The pads must never</span><span style="letter-spacing:-0.053px">touch or overlap.</span></p>

<p class="t" id="m1" style="left:102.4px;top:711.2px;"><span style="letter-spacing:-0.305px">When the adhesive surface</span><span style="letter-spacing:0.045px">becomes dirty and difficult</span><span style="letter-spacing:0.151px">to attach to skin</span></p>
<p class="t" id="m2" style="left:395px;top:711.2px;"><span style="letter-spacing:-0.128px">Remove the cord plug, and then wash the pad</span><span style="letter-spacing:0.071px">gently with your fingertips under slow running</span><span style="letter-spacing:-0.106px">water for a few seconds. Allow the pad to air-dry</span><span style="letter-spacing:0.067px">thoroughly before or storing.</span></p>
</body>
</html>
